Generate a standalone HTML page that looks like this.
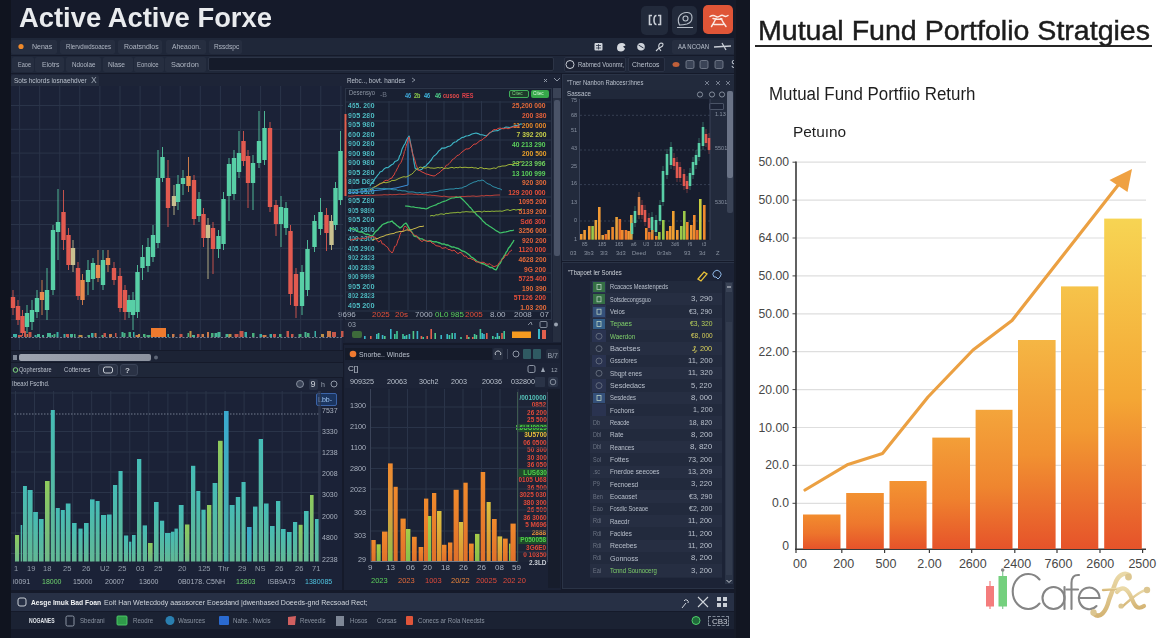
<!DOCTYPE html>
<html><head><meta charset="utf-8"><style>
html,body{margin:0;padding:0;width:1170px;height:638px;overflow:hidden;background:#141928;}
body{position:relative;font-family:"Liberation Sans",sans-serif;}
div{position:absolute;}
.t{white-space:nowrap;line-height:1;}
svg{position:absolute;left:0;top:0;}
#L{left:0;top:0;width:1170px;height:638px;clip-path:inset(0 420px 0 0);filter:blur(0.5px);}
#R{left:0;top:0;width:1170px;height:638px;}
</style></head><body>
<div id="L">
<div style="left:0px;top:0px;width:750px;height:638px;background:#151a2a;"></div>
<div style="left:0px;top:0px;width:11px;height:638px;background:#10141f;"></div>
<div class="t" style="left:18.60px;top:4.0px;font-size:27.5px;color:#e9ebee;font-weight:bold;transform:scaleX(0.995);transform-origin:0 0;">Active Active Forxe</div>
<div style="left:641px;top:6px;width:27px;height:29px;background:#222a3b;border-radius:5px"></div>
<div style="left:672px;top:6px;width:25px;height:29px;background:#222a3b;border-radius:5px"></div>
<div style="left:703px;top:5px;width:30px;height:29px;background:#df5537;border-radius:5px"></div>
<div style="left:11px;top:38px;width:725px;height:17px;background:#1f2739;"></div>
<div style="left:11px;top:40px;width:46px;height:14px;background:#262e40;border-radius:2px"></div>
<div class="t" style="left:31.70px;top:43.2px;font-size:7.5px;color:#b0b7c3;font-weight:normal;transform:scaleX(0.935);transform-origin:0 0;">Nenas</div>
<div style="left:60px;top:40px;width:55px;height:14px;background:#262e40;border-radius:2px"></div>
<div class="t" style="left:66.40px;top:43.2px;font-size:7.5px;color:#b0b7c3;font-weight:normal;transform:scaleX(0.820);transform-origin:0 0;">Rlervdwdsoaces</div>
<div style="left:118px;top:40px;width:44px;height:14px;background:#262e40;border-radius:2px"></div>
<div class="t" style="left:124.00px;top:43.2px;font-size:7.5px;color:#b0b7c3;font-weight:normal;transform:scaleX(0.923);transform-origin:0 0;">Roatsndlos</div>
<div style="left:166px;top:40px;width:40px;height:14px;background:#262e40;border-radius:2px"></div>
<div class="t" style="left:172.00px;top:43.2px;font-size:7.5px;color:#b0b7c3;font-weight:normal;transform:scaleX(0.897);transform-origin:0 0;">Aheaoon.</div>
<div style="left:209px;top:40px;width:33px;height:14px;background:#262e40;border-radius:2px"></div>
<div class="t" style="left:213.70px;top:43.2px;font-size:7.5px;color:#b0b7c3;font-weight:normal;transform:scaleX(0.880);transform-origin:0 0;">Rssdspc</div>
<div style="left:672px;top:40px;width:63px;height:14px;background:#262e40;border-radius:2px"></div>
<div class="t" style="left:678.20px;top:43.7px;font-size:6.8px;color:#b9c0cc;font-weight:normal;transform:scaleX(0.882);transform-origin:0 0;">AA NCOAN</div>
<div style="left:11px;top:56px;width:725px;height:17px;background:#1f2739;"></div>
<div style="left:12px;top:57px;width:22px;height:15px;background:#262e40;border-radius:2px"></div>
<div class="t" style="left:18.00px;top:61.2px;font-size:7.5px;color:#b0b7c3;font-weight:normal;transform:scaleX(0.743);transform-origin:0 0;">Eaoe</div>
<div style="left:35px;top:57px;width:29px;height:15px;background:#262e40;border-radius:2px"></div>
<div class="t" style="left:42.00px;top:61.2px;font-size:7.5px;color:#b0b7c3;font-weight:normal;transform:scaleX(0.914);transform-origin:0 0;">Eiotrs</div>
<div style="left:66px;top:57px;width:35px;height:15px;background:#262e40;border-radius:2px"></div>
<div class="t" style="left:72.00px;top:61.2px;font-size:7.5px;color:#b0b7c3;font-weight:normal;transform:scaleX(0.837);transform-origin:0 0;">Ndoolae</div>
<div style="left:103px;top:57px;width:30px;height:15px;background:#262e40;border-radius:2px"></div>
<div class="t" style="left:108.00px;top:61.2px;font-size:7.5px;color:#b0b7c3;font-weight:normal;transform:scaleX(0.885);transform-origin:0 0;">Nlase</div>
<div style="left:134px;top:57px;width:30px;height:15px;background:#262e40;border-radius:2px"></div>
<div class="t" style="left:137.00px;top:61.2px;font-size:7.5px;color:#b0b7c3;font-weight:normal;transform:scaleX(0.797);transform-origin:0 0;">Eonoice</div>
<div style="left:165px;top:57px;width:41px;height:15px;background:#262e40;border-radius:2px"></div>
<div class="t" style="left:170.50px;top:61.2px;font-size:7.5px;color:#b0b7c3;font-weight:normal;transform:scaleX(0.981);transform-origin:0 0;">Saordon</div>
<div style="left:208px;top:57px;width:346px;height:14px;background:#151b2a;border:1px solid #2c3446;box-sizing:border-box;border-radius:2px"></div>
<div style="left:564px;top:57px;width:62px;height:15px;background:#1b2132;border-radius:2px;border:1px solid #2a3245;box-sizing:border-box"></div>
<div class="t" style="left:577.60px;top:61.2px;font-size:7.2px;color:#b9c0cc;font-weight:normal;transform:scaleX(0.828);transform-origin:0 0;">Rabmed Voonmr,</div>
<div style="left:628px;top:57px;width:37px;height:15px;background:#1b2132;border-radius:2px;border:1px solid #2a3245;box-sizing:border-box"></div>
<div class="t" style="left:632.00px;top:61.2px;font-size:7.2px;color:#b9c0cc;font-weight:normal;transform:scaleX(0.951);transform-origin:0 0;">Chertcos</div>
<div class="t" style="left:731px;top:59.5px;font-size:10px;color:#c3c9d3;font-weight:normal;">S</div>
<div style="left:11px;top:74px;width:332px;height:276px;background:#1b2237;"></div>
<div style="left:11px;top:74px;width:332px;height:12px;background:#1d2437;"></div>
<div style="left:11px;top:75px;width:88px;height:11px;background:#262e40;border-radius:2px 2px 0 0"></div>
<div class="t" style="left:13.80px;top:76.7px;font-size:7.5px;color:#b9c0cc;font-weight:normal;transform:scaleX(0.863);transform-origin:0 0;">Sots hclords iosnaehdver</div>
<div class="t" style="left:91px;top:76.3px;font-size:8.5px;color:#9aa3b1;font-weight:normal;">X</div>
<div style="left:11px;top:351px;width:332px;height:11px;background:#1c2335;"></div>
<div style="left:19px;top:354px;width:132px;height:7px;background:linear-gradient(to right,#9ea4b0,#8c929e);border-radius:2px"></div>
<div style="left:11px;top:363px;width:332px;height:14px;background:#1f2739;"></div>
<div style="left:11px;top:364px;width:46px;height:12px;background:#20273a;border-radius:2px"></div>
<div class="t" style="left:19.00px;top:366.4px;font-size:7.2px;color:#b9c0cc;font-weight:normal;transform:scaleX(0.778);transform-origin:0 0;">Qophersbare</div>
<div style="left:60px;top:364px;width:37px;height:12px;background:#20273a;border-radius:2px"></div>
<div class="t" style="left:64.30px;top:366.4px;font-size:7.2px;color:#b9c0cc;font-weight:normal;transform:scaleX(0.843);transform-origin:0 0;">Cotteroes</div>
<div style="left:98px;top:364px;width:20px;height:12px;background:#2a3245;border-radius:3px;border:1px solid #3a4357;box-sizing:border-box"></div>
<div style="left:120px;top:364px;width:18px;height:12px;background:#2a3245;border-radius:3px;border:1px solid #3a4357;box-sizing:border-box"></div>
<div class="t" style="left:125px;top:366.7px;font-size:8px;color:#c9ced6;font-weight:bold;">?</div>
<div style="left:11px;top:378px;width:331px;height:212px;background:#1b2237;"></div>
<div style="left:11px;top:378px;width:331px;height:12px;background:#1d2437;"></div>
<div class="t" style="left:12.00px;top:380.0px;font-size:7.5px;color:#b9c0cc;font-weight:normal;transform:scaleX(0.801);transform-origin:0 0;">Ibeaxl Fscthd.</div>
<div style="left:309px;top:378.5px;width:9px;height:11.0px;background:#2a3347;border-radius:2px"></div>
<div class="t" style="left:310.5px;top:380.4px;font-size:9px;color:#c9ced6;font-weight:normal;">9</div>
<div class="t" style="left:321px;top:381.1px;font-size:7px;color:#9aa3b1;font-weight:normal;">h</div>
<div style="left:315.5px;top:392.5px;width:21.0px;height:13.5px;background:#1b3560;border:1px solid #3b63a8;box-sizing:border-box;border-radius:2px"></div>
<div class="t" style="left:318px;top:396.1px;font-size:7px;color:#9fc4f0;font-weight:normal;">Lbb-</div>
<div class="t" style="left:322px;top:407.4px;font-size:7px;color:#a9b1bf;font-weight:normal;">7537</div>
<div class="t" style="left:322px;top:427.6px;font-size:7px;color:#a9b1bf;font-weight:normal;">3330</div>
<div class="t" style="left:322px;top:449.3px;font-size:7px;color:#a9b1bf;font-weight:normal;">1238</div>
<div class="t" style="left:322px;top:470.2px;font-size:7px;color:#a9b1bf;font-weight:normal;">2008</div>
<div class="t" style="left:322px;top:491.0px;font-size:7px;color:#a9b1bf;font-weight:normal;">3030</div>
<div class="t" style="left:322px;top:512.6px;font-size:7px;color:#a9b1bf;font-weight:normal;">2000</div>
<div class="t" style="left:322px;top:534.2px;font-size:7px;color:#a9b1bf;font-weight:normal;">4800</div>
<div class="t" style="left:322px;top:555.6px;font-size:7px;color:#a9b1bf;font-weight:normal;">2238</div>
<div class="t" style="left:14px;top:564.7px;font-size:7.5px;color:#959eac;font-weight:normal;">1</div>
<div class="t" style="left:27px;top:564.7px;font-size:7.5px;color:#959eac;font-weight:normal;">19</div>
<div class="t" style="left:43px;top:564.7px;font-size:7.5px;color:#959eac;font-weight:normal;">18</div>
<div class="t" style="left:63px;top:564.7px;font-size:7.5px;color:#959eac;font-weight:normal;">25</div>
<div class="t" style="left:82px;top:564.7px;font-size:7.5px;color:#959eac;font-weight:normal;">26</div>
<div class="t" style="left:100px;top:564.7px;font-size:7.5px;color:#959eac;font-weight:normal;">U2</div>
<div class="t" style="left:118px;top:564.7px;font-size:7.5px;color:#959eac;font-weight:normal;">25</div>
<div class="t" style="left:136px;top:564.7px;font-size:7.5px;color:#959eac;font-weight:normal;">03</div>
<div class="t" style="left:154px;top:564.7px;font-size:7.5px;color:#959eac;font-weight:normal;">25</div>
<div class="t" style="left:178px;top:564.7px;font-size:7.5px;color:#959eac;font-weight:normal;">20</div>
<div class="t" style="left:198px;top:564.7px;font-size:7.5px;color:#959eac;font-weight:normal;">125</div>
<div class="t" style="left:218px;top:564.7px;font-size:7.5px;color:#959eac;font-weight:normal;">Thr</div>
<div class="t" style="left:238px;top:564.7px;font-size:7.5px;color:#959eac;font-weight:normal;">29</div>
<div class="t" style="left:255px;top:564.7px;font-size:7.5px;color:#959eac;font-weight:normal;">NS</div>
<div class="t" style="left:275px;top:564.7px;font-size:7.5px;color:#959eac;font-weight:normal;">26</div>
<div class="t" style="left:295px;top:564.7px;font-size:7.5px;color:#959eac;font-weight:normal;">26</div>
<div class="t" style="left:312px;top:564.7px;font-size:7.5px;color:#959eac;font-weight:normal;">71</div>
<div class="t" style="left:13px;top:577.6px;font-size:7px;color:#aab2c0;font-weight:normal;">i0091</div>
<div class="t" style="left:42px;top:577.6px;font-size:7px;color:#6fd36f;font-weight:normal;">18000</div>
<div class="t" style="left:73px;top:577.6px;font-size:7px;color:#aab2c0;font-weight:normal;">15000</div>
<div class="t" style="left:105px;top:577.6px;font-size:7px;color:#aab2c0;font-weight:normal;">20007</div>
<div class="t" style="left:139px;top:577.6px;font-size:7px;color:#aab2c0;font-weight:normal;">13600</div>
<div class="t" style="left:178px;top:577.6px;font-size:7px;color:#aab2c0;font-weight:normal;">0B0178. C5NH</div>
<div class="t" style="left:236px;top:577.6px;font-size:7px;color:#6fd36f;font-weight:normal;">12803</div>
<div class="t" style="left:268px;top:577.6px;font-size:7px;color:#aab2c0;font-weight:normal;">lSB9A73</div>
<div class="t" style="left:305px;top:577.6px;font-size:7px;color:#4fc3e0;font-weight:normal;">1380085</div>
<div style="left:343px;top:74px;width:218px;height:269px;background:#1b2235;"></div>
<div style="left:343px;top:74px;width:218px;height:13px;background:#1d2437;"></div>
<div class="t" style="left:346.50px;top:76.5px;font-size:7.5px;color:#b9c0cc;font-weight:normal;transform:scaleX(0.844);transform-origin:0 0;">Rebc.., bovt. handes</div>
<div style="left:345px;top:88px;width:207px;height:232px;background:#192032;border:1px solid #2c3548;box-sizing:border-box"></div>
<div class="t" style="left:349.00px;top:89.0px;font-size:7.5px;color:#8e97a5;font-weight:normal;transform:scaleX(0.780);transform-origin:0 0;">Desensyo</div>
<div class="t" style="left:380px;top:90.6px;font-size:7px;color:#6d7585;font-weight:normal;">-B</div>
<div class="t" style="left:405px;top:92.5px;font-size:6.5px;color:#3fa8d8;font-weight:bold;;transform:scaleX(0.85);transform-origin:0 0">46</div>
<div class="t" style="left:414px;top:92.5px;font-size:6.5px;color:#8fd04a;font-weight:bold;;transform:scaleX(0.85);transform-origin:0 0">2b</div>
<div class="t" style="left:424px;top:92.5px;font-size:6.5px;color:#3fb8e0;font-weight:bold;;transform:scaleX(0.85);transform-origin:0 0">46</div>
<div class="t" style="left:435px;top:92.5px;font-size:6.5px;color:#4fd08a;font-weight:bold;;transform:scaleX(0.85);transform-origin:0 0">46</div>
<div class="t" style="left:443px;top:92.5px;font-size:6.5px;color:#e04a4a;font-weight:bold;;transform:scaleX(0.85);transform-origin:0 0">cusoo</div>
<div class="t" style="left:462px;top:92.5px;font-size:6.5px;color:#e0404a;font-weight:bold;;transform:scaleX(0.85);transform-origin:0 0">RES</div>
<div style="left:509px;top:89.5px;width:19.5px;height:8.0px;background:#1f3a2c;border:1px solid #3fae5a;box-sizing:border-box;border-radius:2px"></div>
<div class="t" style="left:511.5px;top:90.8px;font-size:5.5px;color:#7fd67f;font-weight:normal;;transform:scaleX(0.85);transform-origin:0 0">Citec</div>
<div style="left:530.5px;top:89.5px;width:18.0px;height:8.0px;background:#36a84a;border-radius:2px"></div>
<div class="t" style="left:533px;top:90.8px;font-size:5.5px;color:#d8f5d8;font-weight:normal;;transform:scaleX(0.85);transform-origin:0 0">Citec</div>
<div style="left:553px;top:88px;width:8px;height:254px;background:#262e40;"></div>
<div style="left:554px;top:100px;width:6px;height:156px;background:#4a5367;border-radius:2px"></div>
<div class="t" style="left:347.50px;top:102.3px;font-size:7.3px;color:#4fbcc4;font-weight:bold;transform:scaleX(0.933);transform-origin:0 0;">465. 200</div>
<div class="t" style="left:347.50px;top:111.8px;font-size:7.3px;color:#4fbcc4;font-weight:bold;transform:scaleX(1.004);transform-origin:0 0;">905 280</div>
<div class="t" style="left:347.50px;top:121.3px;font-size:7.3px;color:#4fbcc4;font-weight:bold;transform:scaleX(1.004);transform-origin:0 0;">905 980</div>
<div class="t" style="left:347.50px;top:130.8px;font-size:7.3px;color:#4fbcc4;font-weight:bold;transform:scaleX(1.004);transform-origin:0 0;">600 280</div>
<div class="t" style="left:347.50px;top:140.3px;font-size:7.3px;color:#4fbcc4;font-weight:bold;transform:scaleX(1.004);transform-origin:0 0;">900 280</div>
<div class="t" style="left:347.50px;top:149.8px;font-size:7.3px;color:#4fbcc4;font-weight:bold;transform:scaleX(1.004);transform-origin:0 0;">900 980</div>
<div class="t" style="left:347.50px;top:159.3px;font-size:7.3px;color:#4fbcc4;font-weight:bold;transform:scaleX(1.004);transform-origin:0 0;">900 980</div>
<div class="t" style="left:347.50px;top:168.8px;font-size:7.3px;color:#4fbcc4;font-weight:bold;transform:scaleX(1.004);transform-origin:0 0;">905 280</div>
<div class="t" style="left:347.50px;top:178.2px;font-size:7.3px;color:#4fbcc4;font-weight:bold;transform:scaleX(0.960);transform-origin:0 0;">805 D82</div>
<div class="t" style="left:347.50px;top:187.7px;font-size:7.3px;color:#4fbcc4;font-weight:bold;transform:scaleX(0.870);transform-origin:0 0;">865 0520</div>
<div class="t" style="left:347.50px;top:197.2px;font-size:7.3px;color:#4fbcc4;font-weight:bold;transform:scaleX(0.989);transform-origin:0 0;">905 Z80</div>
<div class="t" style="left:347.50px;top:206.7px;font-size:7.3px;color:#4fbcc4;font-weight:bold;transform:scaleX(0.870);transform-origin:0 0;">905 9890</div>
<div class="t" style="left:347.50px;top:216.2px;font-size:7.3px;color:#4fbcc4;font-weight:bold;transform:scaleX(1.004);transform-origin:0 0;">905 200</div>
<div class="t" style="left:347.50px;top:225.7px;font-size:7.3px;color:#4fbcc4;font-weight:bold;transform:scaleX(0.870);transform-origin:0 0;">400 2800</div>
<div class="t" style="left:347.50px;top:235.2px;font-size:7.3px;color:#4fbcc4;font-weight:bold;transform:scaleX(0.870);transform-origin:0 0;">400 2300</div>
<div class="t" style="left:347.50px;top:244.7px;font-size:7.3px;color:#4fbcc4;font-weight:bold;transform:scaleX(0.870);transform-origin:0 0;">405 2900</div>
<div class="t" style="left:347.50px;top:254.2px;font-size:7.3px;color:#4fbcc4;font-weight:bold;transform:scaleX(0.870);transform-origin:0 0;">902 2823</div>
<div class="t" style="left:347.50px;top:263.7px;font-size:7.3px;color:#4fbcc4;font-weight:bold;transform:scaleX(0.870);transform-origin:0 0;">400 2839</div>
<div class="t" style="left:347.50px;top:273.1px;font-size:7.3px;color:#4fbcc4;font-weight:bold;transform:scaleX(0.870);transform-origin:0 0;">900 9999</div>
<div class="t" style="left:347.50px;top:282.6px;font-size:7.3px;color:#4fbcc4;font-weight:bold;transform:scaleX(1.004);transform-origin:0 0;">905 200</div>
<div class="t" style="left:347.50px;top:292.1px;font-size:7.3px;color:#4fbcc4;font-weight:bold;transform:scaleX(0.870);transform-origin:0 0;">802 2823</div>
<div class="t" style="left:347.50px;top:301.6px;font-size:7.3px;color:#4fbcc4;font-weight:bold;transform:scaleX(1.004);transform-origin:0 0;">405 200</div>
<div class="t" style="right:624px;top:102.3px;font-size:7.3px;color:#e46b3a;font-weight:bold;;transform:scaleX(0.92);transform-origin:100% 0">25,200 000</div>
<div class="t" style="right:624px;top:111.9px;font-size:7.3px;color:#e4603a;font-weight:bold;;transform:scaleX(0.92);transform-origin:100% 0">200 380</div>
<div class="t" style="right:624px;top:121.5px;font-size:7.3px;color:#e88a2a;font-weight:bold;;transform:scaleX(0.92);transform-origin:100% 0">11 200 000</div>
<div class="t" style="right:624px;top:131.1px;font-size:7.3px;color:#c8d04a;font-weight:bold;;transform:scaleX(0.92);transform-origin:100% 0">7 392 200</div>
<div class="t" style="right:624px;top:140.7px;font-size:7.3px;color:#5bd05b;font-weight:bold;;transform:scaleX(0.92);transform-origin:100% 0">40 213 290</div>
<div class="t" style="right:624px;top:150.3px;font-size:7.3px;color:#e8a02a;font-weight:bold;;transform:scaleX(0.92);transform-origin:100% 0">200 500</div>
<div class="t" style="right:624px;top:159.9px;font-size:7.3px;color:#6fd05b;font-weight:bold;;transform:scaleX(0.92);transform-origin:100% 0">23 223 996</div>
<div class="t" style="right:624px;top:169.5px;font-size:7.3px;color:#5bd05b;font-weight:bold;;transform:scaleX(0.92);transform-origin:100% 0">13 100 999</div>
<div class="t" style="right:624px;top:179.1px;font-size:7.3px;color:#e46b3a;font-weight:bold;;transform:scaleX(0.92);transform-origin:100% 0">920 300</div>
<div class="t" style="right:624px;top:188.7px;font-size:7.3px;color:#e4503a;font-weight:bold;;transform:scaleX(0.92);transform-origin:100% 0">129 200 000</div>
<div class="t" style="right:624px;top:198.3px;font-size:7.3px;color:#e4603a;font-weight:bold;;transform:scaleX(0.92);transform-origin:100% 0">1095 200</div>
<div class="t" style="right:624px;top:207.9px;font-size:7.3px;color:#e46b3a;font-weight:bold;;transform:scaleX(0.92);transform-origin:100% 0">5139 200</div>
<div class="t" style="right:624px;top:217.5px;font-size:7.3px;color:#e04a3a;font-weight:bold;;transform:scaleX(0.92);transform-origin:100% 0">Sd6 300</div>
<div class="t" style="right:624px;top:227.1px;font-size:7.3px;color:#e46b3a;font-weight:bold;;transform:scaleX(0.92);transform-origin:100% 0">3256 000</div>
<div class="t" style="right:624px;top:236.7px;font-size:7.3px;color:#e4603a;font-weight:bold;;transform:scaleX(0.92);transform-origin:100% 0">920 200</div>
<div class="t" style="right:624px;top:246.3px;font-size:7.3px;color:#e4503a;font-weight:bold;;transform:scaleX(0.92);transform-origin:100% 0">1120 000</div>
<div class="t" style="right:624px;top:255.9px;font-size:7.3px;color:#e46b3a;font-weight:bold;;transform:scaleX(0.92);transform-origin:100% 0">4628 200</div>
<div class="t" style="right:624px;top:265.5px;font-size:7.3px;color:#e4603a;font-weight:bold;;transform:scaleX(0.92);transform-origin:100% 0">9G 200</div>
<div class="t" style="right:624px;top:275.1px;font-size:7.3px;color:#e4503a;font-weight:bold;;transform:scaleX(0.92);transform-origin:100% 0">5725 400</div>
<div class="t" style="right:624px;top:284.7px;font-size:7.3px;color:#e46b3a;font-weight:bold;;transform:scaleX(0.92);transform-origin:100% 0">190 390</div>
<div class="t" style="right:624px;top:294.3px;font-size:7.3px;color:#e4503a;font-weight:bold;;transform:scaleX(0.92);transform-origin:100% 0">5T126 200</div>
<div class="t" style="right:624px;top:303.9px;font-size:7.3px;color:#e46b3a;font-weight:bold;;transform:scaleX(0.92);transform-origin:100% 0">1.03 200</div>
<div class="t" style="left:338px;top:310.7px;font-size:8px;color:#aab2c0;font-weight:normal;">9696</div>
<div class="t" style="left:372px;top:310.7px;font-size:8px;color:#e4503a;font-weight:normal;">2025</div>
<div class="t" style="left:395px;top:310.7px;font-size:8px;color:#e4503a;font-weight:normal;">20s</div>
<div class="t" style="left:415px;top:310.7px;font-size:8px;color:#aab2c0;font-weight:normal;">7000</div>
<div class="t" style="left:435px;top:310.7px;font-size:8px;color:#5bd05b;font-weight:normal;">0L0 985</div>
<div class="t" style="left:465px;top:310.7px;font-size:8px;color:#e4503a;font-weight:normal;">2005</div>
<div class="t" style="left:490px;top:310.7px;font-size:8px;color:#aab2c0;font-weight:normal;">8.00</div>
<div class="t" style="left:514px;top:310.7px;font-size:8px;color:#aab2c0;font-weight:normal;">2008</div>
<div class="t" style="left:540px;top:310.7px;font-size:8px;color:#aab2c0;font-weight:normal;">07</div>
<div style="left:345px;top:320px;width:207px;height:22px;background:#1d2437;"></div>
<div class="t" style="left:348px;top:320.6px;font-size:7px;color:#9aa3b1;font-weight:normal;">03</div>
<div style="left:344px;top:345px;width:217px;height:245px;background:#1b2235;"></div>
<div style="left:345px;top:348px;width:147px;height:12px;background:#151b2a;"></div>
<div class="t" style="left:359.00px;top:350.8px;font-size:7.3px;color:#b9c0cc;font-weight:normal;transform:scaleX(0.940);transform-origin:0 0;">Snorbe.. Windes</div>
<div style="left:493px;top:348px;width:10px;height:12px;background:#262e40;border-radius:2px"></div>
<div style="left:523px;top:349px;width:8px;height:10px;background:#2f5a62;border-radius:1px"></div>
<div style="left:533px;top:349px;width:8px;height:10px;background:#2f5a62;border-radius:1px"></div>
<div style="left:546px;top:349px;width:13px;height:10px;background:#262e40;border-radius:2px"></div>
<div class="t" style="left:547.5px;top:351.6px;font-size:7px;color:#9aa3b1;font-weight:normal;">B/7</div>
<div style="left:345px;top:363px;width:215px;height:25px;background:#1d2437;"></div>
<div class="t" style="left:348px;top:365.2px;font-size:8px;color:#c3c9d3;font-weight:normal;">C[]</div>
<div class="t" style="left:350px;top:377.9px;font-size:7.2px;color:#b9c0cc;font-weight:normal;">909325</div>
<div class="t" style="left:387px;top:377.9px;font-size:7.2px;color:#b9c0cc;font-weight:normal;">20063</div>
<div class="t" style="left:419px;top:377.9px;font-size:7.2px;color:#b9c0cc;font-weight:normal;">30ch2</div>
<div class="t" style="left:451px;top:377.9px;font-size:7.2px;color:#b9c0cc;font-weight:normal;">2003</div>
<div class="t" style="left:482px;top:377.9px;font-size:7.2px;color:#b9c0cc;font-weight:normal;">20036</div>
<div class="t" style="left:511px;top:377.9px;font-size:7.2px;color:#b9c0cc;font-weight:normal;">032800</div>
<div style="left:535px;top:377px;width:10px;height:10px;background:#2a3347;border-radius:1px"></div>
<div style="left:548px;top:377px;width:10px;height:10px;background:#2a3347;border-radius:2px"></div>
<div class="t" style="right:804px;top:402.2px;font-size:7.2px;color:#aab2c0;font-weight:normal;">1300</div>
<div class="t" style="right:804px;top:422.8px;font-size:7.2px;color:#aab2c0;font-weight:normal;">2100</div>
<div class="t" style="right:804px;top:443.8px;font-size:7.2px;color:#aab2c0;font-weight:normal;">1100</div>
<div class="t" style="right:804px;top:465.0px;font-size:7.2px;color:#aab2c0;font-weight:normal;">2800</div>
<div class="t" style="right:804px;top:486.4px;font-size:7.2px;color:#aab2c0;font-weight:normal;">2023</div>
<div class="t" style="right:804px;top:508.9px;font-size:7.2px;color:#aab2c0;font-weight:normal;">303</div>
<div class="t" style="right:804px;top:532.1px;font-size:7.2px;color:#aab2c0;font-weight:normal;">303</div>
<div class="t" style="right:804px;top:555.9px;font-size:7.2px;color:#aab2c0;font-weight:normal;">29</div>
<div style="left:548px;top:389px;width:12px;height:199px;background:#171d2c;"></div>
<div style="left:517px;top:392px;width:31px;height:170px;background:#1d2436;"></div>
<div class="t" style="right:623.5px;top:394.5px;font-size:6.8px;color:#54c0b8;font-weight:bold;;transform:scaleX(0.95);transform-origin:100% 0">/0010000</div>
<div class="t" style="right:623.5px;top:402.0px;font-size:6.8px;color:#e04a3a;font-weight:bold;;transform:scaleX(0.95);transform-origin:100% 0">0852</div>
<div class="t" style="right:623.5px;top:409.5px;font-size:6.8px;color:#e04a3a;font-weight:bold;;transform:scaleX(0.95);transform-origin:100% 0">26 200</div>
<div class="t" style="right:623.5px;top:417.0px;font-size:6.8px;color:#e04a3a;font-weight:bold;;transform:scaleX(0.95);transform-origin:100% 0">25 500</div>
<div style="left:518px;top:424.4px;width:29px;height:7.2000000000000455px;background:#1f4a2a;"></div>
<div class="t" style="right:623.5px;top:424.5px;font-size:6.8px;color:#4fd04a;font-weight:bold;;transform:scaleX(0.95);transform-origin:100% 0">L6UU0029</div>
<div class="t" style="right:623.5px;top:432.0px;font-size:6.8px;color:#e8c03a;font-weight:bold;;transform:scaleX(0.95);transform-origin:100% 0">3U5700</div>
<div class="t" style="right:623.5px;top:439.5px;font-size:6.8px;color:#e04a3a;font-weight:bold;;transform:scaleX(0.95);transform-origin:100% 0">06 0500</div>
<div class="t" style="right:623.5px;top:447.0px;font-size:6.8px;color:#e04a3a;font-weight:bold;;transform:scaleX(0.95);transform-origin:100% 0">50 300</div>
<div class="t" style="right:623.5px;top:454.5px;font-size:6.8px;color:#e04a3a;font-weight:bold;;transform:scaleX(0.95);transform-origin:100% 0">30 300</div>
<div class="t" style="right:623.5px;top:462.0px;font-size:6.8px;color:#e04a3a;font-weight:bold;;transform:scaleX(0.95);transform-origin:100% 0">36 050</div>
<div style="left:518px;top:469.4px;width:29px;height:7.2000000000000455px;background:#1f4a2a;"></div>
<div class="t" style="right:623.5px;top:469.5px;font-size:6.8px;color:#4fd04a;font-weight:bold;;transform:scaleX(0.95);transform-origin:100% 0">LUS630</div>
<div class="t" style="right:623.5px;top:477.0px;font-size:6.8px;color:#e04a3a;font-weight:bold;;transform:scaleX(0.95);transform-origin:100% 0">0105 U68</div>
<div class="t" style="right:623.5px;top:484.5px;font-size:6.8px;color:#e04a3a;font-weight:bold;;transform:scaleX(0.95);transform-origin:100% 0">36 500</div>
<div class="t" style="right:623.5px;top:492.0px;font-size:6.8px;color:#e04a3a;font-weight:bold;;transform:scaleX(0.95);transform-origin:100% 0">3025 030</div>
<div class="t" style="right:623.5px;top:499.5px;font-size:6.8px;color:#e04a3a;font-weight:bold;;transform:scaleX(0.95);transform-origin:100% 0">380 300</div>
<div class="t" style="right:623.5px;top:507.0px;font-size:6.8px;color:#e04a3a;font-weight:bold;;transform:scaleX(0.95);transform-origin:100% 0">26 500</div>
<div class="t" style="right:623.5px;top:514.5px;font-size:6.8px;color:#e04a3a;font-weight:bold;;transform:scaleX(0.95);transform-origin:100% 0">36 3060</div>
<div class="t" style="right:623.5px;top:522.0px;font-size:6.8px;color:#e04a3a;font-weight:bold;;transform:scaleX(0.95);transform-origin:100% 0">5 M696</div>
<div class="t" style="right:623.5px;top:529.5px;font-size:6.8px;color:#e8903a;font-weight:bold;;transform:scaleX(0.95);transform-origin:100% 0">2888</div>
<div style="left:518px;top:536.9px;width:29px;height:7.2000000000000455px;background:#1f4a2a;"></div>
<div class="t" style="right:623.5px;top:537.0px;font-size:6.8px;color:#4fd04a;font-weight:bold;;transform:scaleX(0.95);transform-origin:100% 0">P050058</div>
<div class="t" style="right:623.5px;top:544.5px;font-size:6.8px;color:#e04a3a;font-weight:bold;;transform:scaleX(0.95);transform-origin:100% 0">3G6E0</div>
<div class="t" style="right:623.5px;top:552.0px;font-size:6.8px;color:#e04a3a;font-weight:bold;;transform:scaleX(0.95);transform-origin:100% 0">0 10350</div>
<div class="t" style="right:623.5px;top:559.5px;font-size:6.8px;color:#c9ced6;font-weight:bold;;transform:scaleX(0.95);transform-origin:100% 0">2.3LD</div>
<div class="t" style="left:368px;top:563.7px;font-size:8px;color:#aab2c0;font-weight:normal;">9</div>
<div class="t" style="left:386px;top:563.7px;font-size:8px;color:#aab2c0;font-weight:normal;">13</div>
<div class="t" style="left:406px;top:563.7px;font-size:8px;color:#aab2c0;font-weight:normal;">06</div>
<div class="t" style="left:423px;top:563.7px;font-size:8px;color:#aab2c0;font-weight:normal;">20</div>
<div class="t" style="left:441px;top:563.7px;font-size:8px;color:#aab2c0;font-weight:normal;">18</div>
<div class="t" style="left:459px;top:563.7px;font-size:8px;color:#aab2c0;font-weight:normal;">26</div>
<div class="t" style="left:477px;top:563.7px;font-size:8px;color:#aab2c0;font-weight:normal;">26</div>
<div class="t" style="left:495px;top:563.7px;font-size:8px;color:#aab2c0;font-weight:normal;">08</div>
<div class="t" style="left:512px;top:563.7px;font-size:8px;color:#aab2c0;font-weight:normal;">59</div>
<div class="t" style="left:371px;top:576.7px;font-size:7.5px;color:#5bd05b;font-weight:normal;">2023</div>
<div class="t" style="left:398px;top:576.7px;font-size:7.5px;color:#e46b3a;font-weight:normal;">2023</div>
<div class="t" style="left:425px;top:576.7px;font-size:7.5px;color:#e04a3a;font-weight:normal;">1003</div>
<div class="t" style="left:451px;top:576.7px;font-size:7.5px;color:#e8833a;font-weight:normal;">20/22</div>
<div class="t" style="left:476px;top:576.7px;font-size:7.5px;color:#e04a3a;font-weight:normal;">20025</div>
<div class="t" style="left:503px;top:576.7px;font-size:7.5px;color:#e04a3a;font-weight:normal;">202 20</div>
<div style="left:562px;top:74px;width:173px;height:187px;background:#222a3c;border:1px solid #2a3346;box-sizing:border-box"></div>
<div class="t" style="left:566.50px;top:79.3px;font-size:7.2px;color:#b9c0cc;font-weight:normal;transform:scaleX(0.826);transform-origin:0 0;">"Tner Nanbon Rabcesr:ihnes</div>
<div style="left:565px;top:90px;width:160px;height:9px;background:#20283a;"></div>
<div class="t" style="left:567.00px;top:91.0px;font-size:6.5px;color:#b9c0cc;font-weight:normal;transform:scaleX(0.962);transform-origin:0 0;">Sassace</div>
<div style="left:727px;top:91px;width:6px;height:122px;background:#3a4356;border-radius:2px"></div>
<div style="left:727px;top:91px;width:6px;height:87px;background:#6a7386;border-radius:2px"></div>
<div style="left:579px;top:99px;width:131px;height:141px;background:#171d2e;"></div>
<div class="t" style="right:593px;top:98.3px;font-size:5.5px;color:#8a93a3;font-weight:normal;">75</div>
<div class="t" style="right:593px;top:112.8px;font-size:5.5px;color:#8a93a3;font-weight:normal;">68</div>
<div class="t" style="right:593px;top:128.3px;font-size:5.5px;color:#8a93a3;font-weight:normal;">51</div>
<div class="t" style="right:593px;top:146.3px;font-size:5.5px;color:#8a93a3;font-weight:normal;">43</div>
<div class="t" style="right:593px;top:163.9px;font-size:5.5px;color:#8a93a3;font-weight:normal;">25</div>
<div class="t" style="right:593px;top:181.3px;font-size:5.5px;color:#8a93a3;font-weight:normal;">16</div>
<div class="t" style="right:593px;top:200.3px;font-size:5.5px;color:#8a93a3;font-weight:normal;">13</div>
<div class="t" style="right:593px;top:218.3px;font-size:5.5px;color:#8a93a3;font-weight:normal;">0</div>
<div class="t" style="right:593px;top:237.3px;font-size:5.5px;color:#8a93a3;font-weight:normal;">1</div>
<div style="left:709px;top:103px;width:15px;height:7px;background:#1c2336;border:1px solid #4a5366;box-sizing:border-box;border-radius:1px"></div>
<div class="t" style="left:715px;top:112.3px;font-size:5.5px;color:#8a93a3;font-weight:normal;">1.13</div>
<div class="t" style="left:715px;top:146.3px;font-size:5.5px;color:#8a93a3;font-weight:normal;">5501</div>
<div class="t" style="left:715px;top:200.3px;font-size:5.5px;color:#8a93a3;font-weight:normal;">5301</div>
<div class="t" style="left:582px;top:242.3px;font-size:5px;color:#8a93a1;font-weight:normal;">85</div>
<div class="t" style="left:598px;top:242.3px;font-size:5px;color:#8a93a1;font-weight:normal;">185</div>
<div class="t" style="left:615px;top:242.3px;font-size:5px;color:#8a93a1;font-weight:normal;">165</div>
<div class="t" style="left:631px;top:242.3px;font-size:5px;color:#8a93a1;font-weight:normal;">a6</div>
<div class="t" style="left:643px;top:242.3px;font-size:5px;color:#8a93a1;font-weight:normal;">U3</div>
<div class="t" style="left:654px;top:242.3px;font-size:5px;color:#8a93a1;font-weight:normal;">103</div>
<div class="t" style="left:671px;top:242.3px;font-size:5px;color:#8a93a1;font-weight:normal;">3d6</div>
<div class="t" style="left:688px;top:242.3px;font-size:5px;color:#8a93a1;font-weight:normal;">f6</div>
<div class="t" style="left:702px;top:242.3px;font-size:5px;color:#8a93a1;font-weight:normal;">t3</div>
<div class="t" style="left:570px;top:251.1px;font-size:5.8px;color:#8a93a1;font-weight:normal;">03</div>
<div class="t" style="left:584px;top:251.1px;font-size:5.8px;color:#8a93a1;font-weight:normal;">3b3</div>
<div class="t" style="left:600px;top:251.1px;font-size:5.8px;color:#8a93a1;font-weight:normal;">3l3</div>
<div class="t" style="left:616px;top:251.1px;font-size:5.8px;color:#8a93a1;font-weight:normal;">3d3</div>
<div class="t" style="left:632px;top:251.1px;font-size:5.8px;color:#8a93a1;font-weight:normal;">Deed</div>
<div class="t" style="left:657px;top:251.1px;font-size:5.8px;color:#8a93a1;font-weight:normal;">0r3sb</div>
<div class="t" style="left:684px;top:251.1px;font-size:5.8px;color:#8a93a1;font-weight:normal;">93</div>
<div class="t" style="left:699px;top:251.1px;font-size:5.8px;color:#8a93a1;font-weight:normal;">3d</div>
<div class="t" style="left:716px;top:251.1px;font-size:5.8px;color:#8a93a1;font-weight:normal;">Z</div>
<div style="left:562px;top:262px;width:173px;height:327px;background:#1c2336;border:1px solid #2a3346;box-sizing:border-box"></div>
<div class="t" style="left:568.40px;top:269.2px;font-size:7.5px;color:#cdd2d9;font-weight:normal;transform:scaleX(0.787);transform-origin:0 0;">"Tbapoet ler Sondes</div>
<div style="left:725px;top:282px;width:8px;height:302px;background:#2a3346;"></div>
<div style="left:726px;top:283px;width:6px;height:9px;background:#3a4356;"></div>
<div style="left:726px;top:322px;width:6px;height:253px;background:#323b4e;"></div>
<div style="left:590px;top:281px;width:132px;height:297px;background:#222a3d;"></div>
<div style="left:592px;top:281px;width:14px;height:139px;background:#2a3350;"></div>
<div style="left:593px;top:282.0px;width:12px;height:10.0px;background:#356f45;"></div>
<div class="t" style="left:609.50px;top:283.3px;font-size:7.5px;color:#b9c0cc;font-weight:normal;transform:scaleX(0.766);transform-origin:0 0;">Rcacacs Meastenpeds</div>
<div style="left:590px;top:293.1px;width:132px;height:12.299999999999955px;background:#262e42;"></div>
<div style="left:593px;top:294.3px;width:12px;height:10.0px;background:#356f45;"></div>
<div class="t" style="left:609.50px;top:295.6px;font-size:7.5px;color:#b9c0cc;font-weight:normal;transform:scaleX(0.730);transform-origin:0 0;">Sotsdecongsguo</div>
<div class="t" style="left:690.50px;top:295.3px;font-size:8px;color:#b9c0cc;font-weight:normal;transform:scaleX(0.975);transform-origin:0 0;">3, 290</div>
<div style="left:593px;top:306.7px;width:12px;height:10.0px;background:#34507a;"></div>
<div class="t" style="left:609.50px;top:307.9px;font-size:7.5px;color:#b9c0cc;font-weight:normal;transform:scaleX(0.812);transform-origin:0 0;">Veios</div>
<div class="t" style="left:689.00px;top:307.6px;font-size:8px;color:#b9c0cc;font-weight:normal;transform:scaleX(0.869);transform-origin:0 0;">€3, 290</div>
<div style="left:590px;top:317.8px;width:132px;height:12.300000000000011px;background:#262e42;"></div>
<div style="left:593px;top:319.0px;width:12px;height:10.0px;background:#345e88;"></div>
<div class="t" style="left:609.50px;top:320.2px;font-size:7.5px;color:#7fd06a;font-weight:normal;transform:scaleX(0.909);transform-origin:0 0;">Tepaes</div>
<div class="t" style="left:689.60px;top:319.9px;font-size:8px;color:#b8d05a;font-weight:normal;transform:scaleX(0.846);transform-origin:0 0;">€3, 320</div>
<div class="t" style="left:609.50px;top:332.6px;font-size:7.5px;color:#7fd06a;font-weight:normal;transform:scaleX(0.839);transform-origin:0 0;">Waerdon</div>
<div class="t" style="left:690.50px;top:332.2px;font-size:8px;color:#d8d05a;font-weight:normal;transform:scaleX(0.813);transform-origin:0 0;">€8, 000</div>
<div style="left:590px;top:342.4px;width:132px;height:12.400000000000034px;background:#262e42;"></div>
<div class="t" style="left:609.50px;top:344.9px;font-size:7.5px;color:#b9c0cc;font-weight:normal;transform:scaleX(0.985);transform-origin:0 0;">Bacetses</div>
<div class="t" style="left:692.00px;top:344.6px;font-size:8px;color:#d8d05a;font-weight:normal;transform:scaleX(0.920);transform-origin:0 0;">₰, 200</div>
<div class="t" style="left:609.50px;top:357.2px;font-size:7.5px;color:#b9c0cc;font-weight:normal;transform:scaleX(0.797);transform-origin:0 0;">Gsscfores</div>
<div class="t" style="left:687.50px;top:356.9px;font-size:8px;color:#b9c0cc;font-weight:normal;transform:scaleX(0.946);transform-origin:0 0;">11, 200</div>
<div style="left:590px;top:367.1px;width:132px;height:12.299999999999955px;background:#262e42;"></div>
<div class="t" style="left:609.50px;top:369.6px;font-size:7.5px;color:#b9c0cc;font-weight:normal;transform:scaleX(0.841);transform-origin:0 0;">Sbqpt enes</div>
<div class="t" style="left:687.50px;top:369.2px;font-size:8px;color:#b9c0cc;font-weight:normal;transform:scaleX(0.946);transform-origin:0 0;">11, 320</div>
<div class="t" style="left:609.50px;top:381.9px;font-size:7.5px;color:#b9c0cc;font-weight:normal;transform:scaleX(0.946);transform-origin:0 0;">Sesdedacs</div>
<div class="t" style="left:691.40px;top:381.6px;font-size:8px;color:#b9c0cc;font-weight:normal;transform:scaleX(0.935);transform-origin:0 0;">5, 220</div>
<div style="left:590px;top:391.8px;width:132px;height:12.300000000000011px;background:#262e42;"></div>
<div style="left:593px;top:393.0px;width:12px;height:10.0px;background:#34507a;"></div>
<div class="t" style="left:609.50px;top:394.2px;font-size:7.5px;color:#b9c0cc;font-weight:normal;transform:scaleX(0.777);transform-origin:0 0;">Sesdedes</div>
<div class="t" style="left:690.80px;top:393.9px;font-size:8px;color:#b9c0cc;font-weight:normal;transform:scaleX(0.962);transform-origin:0 0;">8, 000</div>
<div class="t" style="left:609.50px;top:406.6px;font-size:7.5px;color:#b9c0cc;font-weight:normal;transform:scaleX(0.852);transform-origin:0 0;">Fochons</div>
<div class="t" style="left:692.60px;top:406.2px;font-size:8px;color:#b9c0cc;font-weight:normal;transform:scaleX(0.881);transform-origin:0 0;">1, 200</div>
<div style="left:590px;top:416.4px;width:132px;height:12.300000000000011px;background:#262e42;"></div>
<div class="t" style="left:593px;top:419.6px;font-size:6.5px;color:#6d7585;font-weight:normal;;transform:scaleX(0.85);transform-origin:0 0">Db</div>
<div class="t" style="left:609.50px;top:418.9px;font-size:7.5px;color:#b9c0cc;font-weight:normal;transform:scaleX(0.754);transform-origin:0 0;">Reacde</div>
<div class="t" style="left:689.00px;top:418.6px;font-size:8px;color:#b9c0cc;font-weight:normal;transform:scaleX(0.869);transform-origin:0 0;">18, 820</div>
<div class="t" style="left:593px;top:432.0px;font-size:6.5px;color:#6d7585;font-weight:normal;;transform:scaleX(0.85);transform-origin:0 0">Dbl</div>
<div class="t" style="left:609.50px;top:431.2px;font-size:7.5px;color:#b9c0cc;font-weight:normal;transform:scaleX(0.852);transform-origin:0 0;">Rate</div>
<div class="t" style="left:690.50px;top:430.9px;font-size:8px;color:#b9c0cc;font-weight:normal;transform:scaleX(0.975);transform-origin:0 0;">8, 200</div>
<div style="left:590px;top:441.1px;width:132px;height:12.299999999999955px;background:#262e42;"></div>
<div class="t" style="left:593px;top:444.3px;font-size:6.5px;color:#6d7585;font-weight:normal;;transform:scaleX(0.85);transform-origin:0 0">Dbl</div>
<div class="t" style="left:609.50px;top:443.5px;font-size:7.5px;color:#b9c0cc;font-weight:normal;transform:scaleX(0.824);transform-origin:0 0;">Reances</div>
<div class="t" style="left:689.90px;top:443.2px;font-size:8px;color:#b9c0cc;font-weight:normal;transform:scaleX(1.002);transform-origin:0 0;">8, 820</div>
<div class="t" style="left:593px;top:456.6px;font-size:6.5px;color:#6d7585;font-weight:normal;;transform:scaleX(0.85);transform-origin:0 0">Sol</div>
<div class="t" style="left:609.50px;top:455.9px;font-size:7.5px;color:#b9c0cc;font-weight:normal;transform:scaleX(0.902);transform-origin:0 0;">Fottes</div>
<div class="t" style="left:688.00px;top:455.5px;font-size:8px;color:#b9c0cc;font-weight:normal;transform:scaleX(0.906);transform-origin:0 0;">73, 200</div>
<div style="left:590px;top:465.8px;width:132px;height:12.300000000000011px;background:#262e42;"></div>
<div class="t" style="left:593px;top:468.9px;font-size:6.5px;color:#6d7585;font-weight:normal;;transform:scaleX(0.85);transform-origin:0 0">.sc</div>
<div class="t" style="left:609.50px;top:468.2px;font-size:7.5px;color:#b9c0cc;font-weight:normal;transform:scaleX(0.854);transform-origin:0 0;">Fnerdoe seecoes</div>
<div class="t" style="left:688.00px;top:467.9px;font-size:8px;color:#b9c0cc;font-weight:normal;transform:scaleX(0.906);transform-origin:0 0;">13, 209</div>
<div class="t" style="left:593px;top:481.3px;font-size:6.5px;color:#6d7585;font-weight:normal;;transform:scaleX(0.85);transform-origin:0 0">P9</div>
<div class="t" style="left:609.50px;top:480.5px;font-size:7.5px;color:#b9c0cc;font-weight:normal;transform:scaleX(0.856);transform-origin:0 0;">Fecnoesd</div>
<div class="t" style="left:691.00px;top:480.2px;font-size:8px;color:#b9c0cc;font-weight:normal;transform:scaleX(0.953);transform-origin:0 0;">3, 220</div>
<div style="left:590px;top:490.4px;width:132px;height:12.300000000000011px;background:#262e42;"></div>
<div class="t" style="left:593px;top:493.6px;font-size:6.5px;color:#6d7585;font-weight:normal;;transform:scaleX(0.85);transform-origin:0 0">Ben</div>
<div class="t" style="left:609.50px;top:492.9px;font-size:7.5px;color:#b9c0cc;font-weight:normal;transform:scaleX(0.864);transform-origin:0 0;">Eocaoset</div>
<div class="t" style="left:688.80px;top:492.5px;font-size:8px;color:#b9c0cc;font-weight:normal;transform:scaleX(0.876);transform-origin:0 0;">€3, 290</div>
<div class="t" style="left:593px;top:505.9px;font-size:6.5px;color:#6d7585;font-weight:normal;;transform:scaleX(0.85);transform-origin:0 0">Eao</div>
<div class="t" style="left:609.50px;top:505.2px;font-size:7.5px;color:#b9c0cc;font-weight:normal;transform:scaleX(0.763);transform-origin:0 0;">Fosdic Soeaoe</div>
<div class="t" style="left:688.80px;top:504.9px;font-size:8px;color:#b9c0cc;font-weight:normal;transform:scaleX(0.876);transform-origin:0 0;">€2, 200</div>
<div style="left:590px;top:515.1px;width:132px;height:12.299999999999955px;background:#262e42;"></div>
<div class="t" style="left:593px;top:518.3px;font-size:6.5px;color:#6d7585;font-weight:normal;;transform:scaleX(0.85);transform-origin:0 0">Rdi</div>
<div class="t" style="left:609.50px;top:517.5px;font-size:7.5px;color:#b9c0cc;font-weight:normal;transform:scaleX(0.806);transform-origin:0 0;">Raecdr</div>
<div class="t" style="left:688.00px;top:517.2px;font-size:8px;color:#b9c0cc;font-weight:normal;transform:scaleX(0.927);transform-origin:0 0;">11, 200</div>
<div class="t" style="left:593px;top:530.6px;font-size:6.5px;color:#6d7585;font-weight:normal;;transform:scaleX(0.85);transform-origin:0 0">Rdi</div>
<div class="t" style="left:609.50px;top:529.9px;font-size:7.5px;color:#b9c0cc;font-weight:normal;transform:scaleX(0.830);transform-origin:0 0;">Facides</div>
<div class="t" style="left:688.00px;top:529.5px;font-size:8px;color:#b9c0cc;font-weight:normal;transform:scaleX(0.927);transform-origin:0 0;">11, 200</div>
<div style="left:590px;top:539.7px;width:132px;height:12.299999999999955px;background:#262e42;"></div>
<div class="t" style="left:593px;top:542.9px;font-size:6.5px;color:#6d7585;font-weight:normal;;transform:scaleX(0.85);transform-origin:0 0">Rdi</div>
<div class="t" style="left:609.50px;top:542.2px;font-size:7.5px;color:#b9c0cc;font-weight:normal;transform:scaleX(0.912);transform-origin:0 0;">Recebes</div>
<div class="t" style="left:688.00px;top:541.9px;font-size:8px;color:#b9c0cc;font-weight:normal;transform:scaleX(0.927);transform-origin:0 0;">11, 200</div>
<div class="t" style="left:593px;top:555.3px;font-size:6.5px;color:#6d7585;font-weight:normal;;transform:scaleX(0.85);transform-origin:0 0">Rdi</div>
<div class="t" style="left:609.50px;top:554.5px;font-size:7.5px;color:#b9c0cc;font-weight:normal;transform:scaleX(0.940);transform-origin:0 0;">Gonnoss</div>
<div class="t" style="left:691.00px;top:554.2px;font-size:8px;color:#b9c0cc;font-weight:normal;transform:scaleX(0.953);transform-origin:0 0;">8, 200</div>
<div style="left:590px;top:564.4px;width:132px;height:12.300000000000068px;background:#262e42;"></div>
<div class="t" style="left:593px;top:567.6px;font-size:6.5px;color:#6d7585;font-weight:normal;;transform:scaleX(0.85);transform-origin:0 0">Eai</div>
<div class="t" style="left:609.50px;top:566.8px;font-size:7.5px;color:#7fd06a;font-weight:normal;transform:scaleX(0.802);transform-origin:0 0;">Tcnnd Sounocerg</div>
<div class="t" style="left:691.00px;top:566.5px;font-size:8px;color:#b9c0cc;font-weight:normal;transform:scaleX(0.953);transform-origin:0 0;">3, 200</div>
<div style="left:11px;top:593px;width:723px;height:18px;background:#273045;"></div>
<div class="t" style="left:31px;top:598.9px;font-size:7.8px;color:#f0f2f4;font-weight:bold;;transform:scaleX(0.86);transform-origin:0 0">Aesge Imuk Bad Foan</div>
<div class="t" style="left:104px;top:599.1px;font-size:7.6px;color:#d0d5dc;font-weight:normal;;transform:scaleX(0.93);transform-origin:0 0">Eoit Han Wetecdody aasosorcer Eoesdand |dwenbased Doeeds-gnd Recsoad Rect;</div>
<div style="left:11px;top:612px;width:723px;height:17px;background:#1b2233;"></div>
<div class="t" style="left:29px;top:618.0px;font-size:6.5px;color:#e0e4ea;font-weight:bold;;transform:scaleX(0.78);transform-origin:0 0">NOGANES</div>
<div class="t" style="left:80px;top:617.2px;font-size:7.5px;color:#8a93a1;font-weight:normal;;transform:scaleX(0.82);transform-origin:0 0">Sbedrani</div>
<div class="t" style="left:133px;top:617.2px;font-size:7.5px;color:#8a93a1;font-weight:normal;;transform:scaleX(0.82);transform-origin:0 0">Reodre</div>
<div class="t" style="left:178px;top:617.2px;font-size:7.5px;color:#8a93a1;font-weight:normal;;transform:scaleX(0.82);transform-origin:0 0">Wasurces</div>
<div class="t" style="left:233px;top:617.2px;font-size:7.5px;color:#8a93a1;font-weight:normal;;transform:scaleX(0.82);transform-origin:0 0">Nahe.. Nwicis</div>
<div class="t" style="left:300px;top:617.2px;font-size:7.5px;color:#8a93a1;font-weight:normal;;transform:scaleX(0.82);transform-origin:0 0">Reveedis</div>
<div class="t" style="left:350px;top:617.2px;font-size:7.5px;color:#8a93a1;font-weight:normal;;transform:scaleX(0.82);transform-origin:0 0">Hosos</div>
<div class="t" style="left:377px;top:617.2px;font-size:7.5px;color:#8a93a1;font-weight:normal;;transform:scaleX(0.82);transform-origin:0 0">Corsas</div>
<div class="t" style="left:418px;top:617.2px;font-size:7.5px;color:#8a93a1;font-weight:normal;;transform:scaleX(0.82);transform-origin:0 0">Conecs ar Rola Needsts</div>
<div style="left:708px;top:616px;width:21px;height:10px;background:transparent;border:1px dashed #7e8796;box-sizing:border-box"></div>
<div class="t" style="left:712px;top:617.7px;font-size:8px;color:#c9ced6;font-weight:normal;">CB3</div>
<div style="left:734px;top:0px;width:16px;height:638px;background:#161b28;"></div>
<div style="left:736px;top:0px;width:14px;height:638px;background:#121622;"></div>
<svg width="1170" height="638" viewBox="0 0 1170 638">
<g fill="none" stroke="#c9ced6" stroke-width="1.6"><path d="M652 15.5 h-2.5 v9 h2.5"/><path d="M656.5 15.5 q-2.5 0 -2.5 4.5 q0 4.5 2.5 4.5"/><path d="M658 15.5 h2.5 v9 h-2.5"/></g>
<path d="M679.5 25 q-2.5 -5 0 -9 q3 -4 8 -3.5 q4.5 0.5 4.5 5 q0 5 -5 6.5 q-4 1 -7.5 1z" fill="none" stroke="#b9c0ca" stroke-width="1.1"/><circle cx="685.5" cy="18.5" r="2.5" fill="none" stroke="#b9c0ca" stroke-width="1.1"/><line x1="677" y1="27.5" x2="693" y2="27.5" stroke="#b9c0ca" stroke-width="1"/>
<path d="M710 16.5 q3 -2 6 0 q2 1 4 -0.5 q2 -1.5 4 0 q2 1 4 -0.5 M713 18.5 q4 1 9 0.5 M716 18.5 q-2 4 -4.5 8 M721 18.5 q2 4 5 8 M714 24.5 h9" fill="none" stroke="#fbe9e3" stroke-width="1.5" stroke-linecap="round"/>
<circle cx="21" cy="46.5" r="2.6" fill="#f08a2a"/>
<rect x="594.5" y="43" width="8" height="7.5" rx="1" fill="#cfd4db"/><path d="M596 45.5 h5 M596 48 h5 M598.5 44 v5.5" stroke="#2a3245" stroke-width="0.8"/>
<path d="M617 48 q0 -5 5 -5 q3 0 3.5 2.5 l-2.5 1 l2 2 q-1 3 -4 3 q-4 0 -4 -3.5z" fill="#d5d9df"/>
<circle cx="641" cy="46.8" r="3.8" fill="#cfd4db"/><path d="M638.5 45 l5 3" stroke="#2a3245" stroke-width="1"/>
<path d="M656 51 l3 -3 l2 3 M659 48 q-1 -4 2 -5 q3 0 1.5 3 l-3 2" fill="none" stroke="#cfd4db" stroke-width="1.1"/>
<path d="M714 47 L731 46 M722 43 L726 50" stroke="#c9ced6" stroke-width="1.3" fill="none"/>
<circle cx="570" cy="64.5" r="4" fill="none" stroke="#c9ced6" stroke-width="1"/>
<ellipse cx="676" cy="64.5" rx="3.5" ry="2.5" fill="#c0603a"/>
<rect x="686" y="60.5" width="8" height="8" rx="1.5" fill="#3a4356" stroke="#7e8796" stroke-width="0.8"/>
<rect x="700" y="60.5" width="8" height="8" rx="1.5" fill="#3a4356" stroke="#7e8796" stroke-width="0.8"/>
<rect x="715" y="60.5" width="8" height="8" rx="1.5" fill="#3a4356" stroke="#7e8796" stroke-width="0.8"/>
<line x1="19.6" y1="86" x2="19.6" y2="350" stroke="#2a3449" stroke-width="1"/>
<line x1="39.7" y1="86" x2="39.7" y2="350" stroke="#2a3449" stroke-width="1"/>
<line x1="59.8" y1="86" x2="59.8" y2="350" stroke="#2a3449" stroke-width="1"/>
<line x1="79.8" y1="86" x2="79.8" y2="350" stroke="#2a3449" stroke-width="1"/>
<line x1="99.9" y1="86" x2="99.9" y2="350" stroke="#2a3449" stroke-width="1"/>
<line x1="120.0" y1="86" x2="120.0" y2="350" stroke="#2a3449" stroke-width="1"/>
<line x1="140.1" y1="86" x2="140.1" y2="350" stroke="#2a3449" stroke-width="1"/>
<line x1="160.2" y1="86" x2="160.2" y2="350" stroke="#2a3449" stroke-width="1"/>
<line x1="180.2" y1="86" x2="180.2" y2="350" stroke="#2a3449" stroke-width="1"/>
<line x1="200.3" y1="86" x2="200.3" y2="350" stroke="#2a3449" stroke-width="1"/>
<line x1="220.4" y1="86" x2="220.4" y2="350" stroke="#2a3449" stroke-width="1"/>
<line x1="240.5" y1="86" x2="240.5" y2="350" stroke="#2a3449" stroke-width="1"/>
<line x1="260.6" y1="86" x2="260.6" y2="350" stroke="#2a3449" stroke-width="1"/>
<line x1="280.6" y1="86" x2="280.6" y2="350" stroke="#2a3449" stroke-width="1"/>
<line x1="300.7" y1="86" x2="300.7" y2="350" stroke="#2a3449" stroke-width="1"/>
<line x1="320.8" y1="86" x2="320.8" y2="350" stroke="#2a3449" stroke-width="1"/>
<line x1="340.9" y1="86" x2="340.9" y2="350" stroke="#2a3449" stroke-width="1"/>
<line x1="11" y1="105.5" x2="343" y2="105.5" stroke="#2a3449" stroke-width="1"/>
<line x1="11" y1="129.3" x2="343" y2="129.3" stroke="#2a3449" stroke-width="1"/>
<line x1="11" y1="153.1" x2="343" y2="153.1" stroke="#2a3449" stroke-width="1"/>
<line x1="11" y1="176.9" x2="343" y2="176.9" stroke="#2a3449" stroke-width="1"/>
<line x1="11" y1="200.7" x2="343" y2="200.7" stroke="#2a3449" stroke-width="1"/>
<line x1="11" y1="224.5" x2="343" y2="224.5" stroke="#2a3449" stroke-width="1"/>
<line x1="11" y1="248.3" x2="343" y2="248.3" stroke="#2a3449" stroke-width="1"/>
<line x1="11" y1="272.1" x2="343" y2="272.1" stroke="#2a3449" stroke-width="1"/>
<line x1="11" y1="295.9" x2="343" y2="295.9" stroke="#2a3449" stroke-width="1"/>
<line x1="11" y1="319.70000000000005" x2="343" y2="319.70000000000005" stroke="#2a3449" stroke-width="1"/>
<line x1="13" y1="290" x2="13" y2="315" stroke="#e25a50" stroke-width="1" opacity="0.85"/>
<rect x="10.8" y="297" width="4.4" height="11" fill="#e25a50"/>
<line x1="18" y1="300" x2="18" y2="325" stroke="#e25a50" stroke-width="1" opacity="0.85"/>
<rect x="15.8" y="306" width="4.4" height="14" fill="#e25a50"/>
<line x1="22.5" y1="310" x2="22.5" y2="336" stroke="#e25a50" stroke-width="1" opacity="0.85"/>
<rect x="20.3" y="316" width="4.4" height="17" fill="#e25a50"/>
<line x1="27" y1="305" x2="27" y2="333" stroke="#58cfa6" stroke-width="1" opacity="0.85"/>
<rect x="24.8" y="313" width="4.4" height="14" fill="#58cfa6"/>
<line x1="32" y1="300" x2="32" y2="330" stroke="#58cfa6" stroke-width="1" opacity="0.85"/>
<rect x="29.8" y="310" width="4.4" height="12" fill="#58cfa6"/>
<line x1="37" y1="290" x2="37" y2="318" stroke="#58cfa6" stroke-width="1" opacity="0.85"/>
<rect x="34.8" y="298" width="4.4" height="14" fill="#58cfa6"/>
<line x1="42" y1="280" x2="42" y2="315" stroke="#e98a4e" stroke-width="1" opacity="0.85"/>
<rect x="39.8" y="292" width="4.4" height="8" fill="#e98a4e"/>
<line x1="47" y1="268" x2="47" y2="320" stroke="#58cfa6" stroke-width="1" opacity="0.85"/>
<rect x="44.8" y="290" width="4.4" height="20" fill="#58cfa6"/>
<line x1="53" y1="225" x2="53" y2="295" stroke="#58cfa6" stroke-width="1" opacity="0.85"/>
<rect x="50.8" y="230" width="4.4" height="60" fill="#58cfa6"/>
<line x1="58" y1="189" x2="58" y2="260" stroke="#58cfa6" stroke-width="1" opacity="0.85"/>
<rect x="55.8" y="222" width="4.4" height="10" fill="#58cfa6"/>
<line x1="63.5" y1="190" x2="63.5" y2="250" stroke="#e25a50" stroke-width="1" opacity="0.85"/>
<rect x="61.3" y="212" width="4.4" height="28" fill="#e25a50"/>
<line x1="68.5" y1="228" x2="68.5" y2="270" stroke="#e25a50" stroke-width="1" opacity="0.85"/>
<rect x="66.3" y="235" width="4.4" height="30" fill="#e25a50"/>
<line x1="73" y1="240" x2="73" y2="272" stroke="#c9c08f" stroke-width="1" opacity="0.85"/>
<rect x="70.8" y="248" width="4.4" height="17" fill="#c9c08f"/>
<line x1="78" y1="262" x2="78" y2="300" stroke="#e25a50" stroke-width="1" opacity="0.85"/>
<rect x="75.8" y="268" width="4.4" height="28" fill="#e25a50"/>
<line x1="82.5" y1="274" x2="82.5" y2="305" stroke="#e98a4e" stroke-width="1" opacity="0.85"/>
<rect x="80.3" y="280" width="4.4" height="20" fill="#e98a4e"/>
<line x1="88" y1="260" x2="88" y2="295" stroke="#58cfa6" stroke-width="1" opacity="0.85"/>
<rect x="85.8" y="270" width="4.4" height="12" fill="#58cfa6"/>
<line x1="93" y1="258" x2="93" y2="290" stroke="#58cfa6" stroke-width="1" opacity="0.85"/>
<rect x="90.8" y="263" width="4.4" height="16" fill="#58cfa6"/>
<line x1="98" y1="250" x2="98" y2="282" stroke="#e98a4e" stroke-width="1" opacity="0.85"/>
<rect x="95.8" y="265" width="4.4" height="13" fill="#e98a4e"/>
<line x1="103" y1="250" x2="103" y2="290" stroke="#58cfa6" stroke-width="1" opacity="0.85"/>
<rect x="100.8" y="260" width="4.4" height="25" fill="#58cfa6"/>
<line x1="108" y1="250" x2="108" y2="272" stroke="#e98a4e" stroke-width="1" opacity="0.85"/>
<rect x="105.8" y="258" width="4.4" height="7" fill="#e98a4e"/>
<line x1="114" y1="262" x2="114" y2="285" stroke="#e25a50" stroke-width="1" opacity="0.85"/>
<rect x="111.8" y="268" width="4.4" height="12" fill="#e25a50"/>
<line x1="120" y1="268" x2="120" y2="312" stroke="#e25a50" stroke-width="1" opacity="0.85"/>
<rect x="117.8" y="276" width="4.4" height="32" fill="#e25a50"/>
<line x1="125" y1="285" x2="125" y2="320" stroke="#e25a50" stroke-width="1" opacity="0.85"/>
<rect x="122.8" y="290" width="4.4" height="22" fill="#e25a50"/>
<line x1="129" y1="295" x2="129" y2="318" stroke="#58cfa6" stroke-width="1" opacity="0.85"/>
<rect x="126.8" y="300" width="4.4" height="12" fill="#58cfa6"/>
<line x1="133" y1="292" x2="133" y2="330" stroke="#58cfa6" stroke-width="1" opacity="0.85"/>
<rect x="130.8" y="300" width="4.4" height="15" fill="#58cfa6"/>
<line x1="137.5" y1="265" x2="137.5" y2="318" stroke="#58cfa6" stroke-width="1" opacity="0.85"/>
<rect x="135.3" y="272" width="4.4" height="40" fill="#58cfa6"/>
<line x1="142.5" y1="245" x2="142.5" y2="280" stroke="#58cfa6" stroke-width="1" opacity="0.85"/>
<rect x="140.3" y="257" width="4.4" height="11" fill="#58cfa6"/>
<line x1="148" y1="238" x2="148" y2="272" stroke="#58cfa6" stroke-width="1" opacity="0.85"/>
<rect x="145.8" y="247" width="4.4" height="19" fill="#58cfa6"/>
<line x1="153" y1="225" x2="153" y2="262" stroke="#58cfa6" stroke-width="1" opacity="0.85"/>
<rect x="150.8" y="235" width="4.4" height="22" fill="#58cfa6"/>
<line x1="158" y1="150" x2="158" y2="248" stroke="#58cfa6" stroke-width="1" opacity="0.85"/>
<rect x="155.8" y="178" width="4.4" height="65" fill="#58cfa6"/>
<line x1="162.5" y1="147" x2="162.5" y2="182" stroke="#58cfa6" stroke-width="1" opacity="0.85"/>
<rect x="160.3" y="157" width="4.4" height="21" fill="#58cfa6"/>
<line x1="168" y1="160" x2="168" y2="227" stroke="#e25a50" stroke-width="1" opacity="0.85"/>
<rect x="165.8" y="178" width="4.4" height="30" fill="#e25a50"/>
<line x1="174" y1="185" x2="174" y2="215" stroke="#c9c08f" stroke-width="1" opacity="0.85"/>
<rect x="171.8" y="196" width="4.4" height="10" fill="#c9c08f"/>
<line x1="178" y1="175" x2="178" y2="210" stroke="#58cfa6" stroke-width="1" opacity="0.85"/>
<rect x="175.8" y="184" width="4.4" height="18" fill="#58cfa6"/>
<line x1="183" y1="170" x2="183" y2="195" stroke="#58cfa6" stroke-width="1" opacity="0.85"/>
<rect x="180.8" y="178" width="4.4" height="6" fill="#58cfa6"/>
<line x1="188.5" y1="157" x2="188.5" y2="192" stroke="#e98a4e" stroke-width="1" opacity="0.85"/>
<rect x="186.3" y="176" width="4.4" height="10" fill="#e98a4e"/>
<line x1="194" y1="175" x2="194" y2="225" stroke="#e25a50" stroke-width="1" opacity="0.85"/>
<rect x="191.8" y="180" width="4.4" height="39" fill="#e25a50"/>
<line x1="199" y1="192" x2="199" y2="222" stroke="#58cfa6" stroke-width="1" opacity="0.85"/>
<rect x="196.8" y="199" width="4.4" height="17" fill="#58cfa6"/>
<line x1="203.5" y1="208" x2="203.5" y2="247" stroke="#e25a50" stroke-width="1" opacity="0.85"/>
<rect x="201.3" y="214" width="4.4" height="24" fill="#e25a50"/>
<line x1="208" y1="218" x2="208" y2="279" stroke="#c9c08f" stroke-width="1" opacity="0.85"/>
<rect x="205.8" y="225" width="4.4" height="13" fill="#c9c08f"/>
<line x1="213" y1="222" x2="213" y2="274" stroke="#e25a50" stroke-width="1" opacity="0.85"/>
<rect x="210.8" y="228" width="4.4" height="21" fill="#e25a50"/>
<line x1="218.5" y1="230" x2="218.5" y2="258" stroke="#58cfa6" stroke-width="1" opacity="0.85"/>
<rect x="216.3" y="236" width="4.4" height="13" fill="#58cfa6"/>
<line x1="223.5" y1="192" x2="223.5" y2="250" stroke="#58cfa6" stroke-width="1" opacity="0.85"/>
<rect x="221.3" y="199" width="4.4" height="45" fill="#58cfa6"/>
<line x1="229" y1="158" x2="229" y2="221" stroke="#58cfa6" stroke-width="1" opacity="0.85"/>
<rect x="226.8" y="164" width="4.4" height="32" fill="#58cfa6"/>
<line x1="234" y1="150" x2="234" y2="200" stroke="#58cfa6" stroke-width="1" opacity="0.85"/>
<rect x="231.8" y="158" width="4.4" height="36" fill="#58cfa6"/>
<line x1="239" y1="131" x2="239" y2="178" stroke="#58cfa6" stroke-width="1" opacity="0.85"/>
<rect x="236.8" y="153" width="4.4" height="19" fill="#58cfa6"/>
<line x1="243.5" y1="131" x2="243.5" y2="166" stroke="#e25a50" stroke-width="1" opacity="0.85"/>
<rect x="241.3" y="141" width="4.4" height="20" fill="#e25a50"/>
<line x1="248" y1="150" x2="248" y2="208" stroke="#e25a50" stroke-width="1" opacity="0.85"/>
<rect x="245.8" y="156" width="4.4" height="27" fill="#e25a50"/>
<line x1="253" y1="155" x2="253" y2="210" stroke="#58cfa6" stroke-width="1" opacity="0.85"/>
<rect x="250.8" y="163" width="4.4" height="20" fill="#58cfa6"/>
<line x1="259" y1="111" x2="259" y2="168" stroke="#58cfa6" stroke-width="1" opacity="0.85"/>
<rect x="256.8" y="141" width="4.4" height="22" fill="#58cfa6"/>
<line x1="264.5" y1="111" x2="264.5" y2="165" stroke="#58cfa6" stroke-width="1" opacity="0.85"/>
<rect x="262.3" y="128" width="4.4" height="32" fill="#58cfa6"/>
<line x1="270" y1="122" x2="270" y2="212" stroke="#e25a50" stroke-width="1" opacity="0.85"/>
<rect x="267.8" y="128" width="4.4" height="79" fill="#e25a50"/>
<line x1="276" y1="200" x2="276" y2="236" stroke="#e25a50" stroke-width="1" opacity="0.85"/>
<rect x="273.8" y="205" width="4.4" height="19" fill="#e25a50"/>
<line x1="281" y1="196" x2="281" y2="247" stroke="#58cfa6" stroke-width="1" opacity="0.85"/>
<rect x="278.8" y="207" width="4.4" height="17" fill="#58cfa6"/>
<line x1="286" y1="202" x2="286" y2="235" stroke="#58cfa6" stroke-width="1" opacity="0.85"/>
<rect x="283.8" y="208" width="4.4" height="20" fill="#58cfa6"/>
<line x1="290.5" y1="225" x2="290.5" y2="305" stroke="#e25a50" stroke-width="1" opacity="0.85"/>
<rect x="288.3" y="231" width="4.4" height="63" fill="#e25a50"/>
<line x1="296" y1="268" x2="296" y2="318" stroke="#e25a50" stroke-width="1" opacity="0.85"/>
<rect x="293.8" y="274" width="4.4" height="32" fill="#e25a50"/>
<line x1="302" y1="265" x2="302" y2="315" stroke="#58cfa6" stroke-width="1" opacity="0.85"/>
<rect x="299.8" y="272" width="4.4" height="34" fill="#58cfa6"/>
<line x1="307.5" y1="240" x2="307.5" y2="296" stroke="#58cfa6" stroke-width="1" opacity="0.85"/>
<rect x="305.3" y="249" width="4.4" height="41" fill="#58cfa6"/>
<line x1="314.5" y1="215" x2="314.5" y2="252" stroke="#58cfa6" stroke-width="1" opacity="0.85"/>
<rect x="312.3" y="221" width="4.4" height="26" fill="#58cfa6"/>
<line x1="320.5" y1="198" x2="320.5" y2="235" stroke="#58cfa6" stroke-width="1" opacity="0.85"/>
<rect x="318.3" y="212" width="4.4" height="17" fill="#58cfa6"/>
<line x1="326.5" y1="208" x2="326.5" y2="251" stroke="#e25a50" stroke-width="1" opacity="0.85"/>
<rect x="324.3" y="215" width="4.4" height="18" fill="#e25a50"/>
<line x1="331.5" y1="215" x2="331.5" y2="250" stroke="#c9c08f" stroke-width="1" opacity="0.85"/>
<rect x="329.3" y="221" width="4.4" height="24" fill="#c9c08f"/>
<line x1="335.5" y1="182" x2="335.5" y2="230" stroke="#58cfa6" stroke-width="1" opacity="0.85"/>
<rect x="333.3" y="188" width="4.4" height="37" fill="#58cfa6"/>
<line x1="340.5" y1="131" x2="340.5" y2="205" stroke="#58cfa6" stroke-width="1" opacity="0.85"/>
<rect x="338.3" y="151" width="4.4" height="49" fill="#58cfa6"/>
<rect x="344.5" y="114" width="2" height="82" fill="#e4604d"/>
<rect x="13.0" y="334" width="4" height="3" fill="#41c8b8" opacity="0.85"/>
<rect x="18.0" y="335" width="4" height="2" fill="#e4604d" opacity="0.85"/>
<rect x="24.0" y="331" width="2" height="6" fill="#e4604d" opacity="0.85"/>
<rect x="26.5" y="334" width="1.5" height="3" fill="#e98a4e" opacity="0.85"/>
<rect x="28.5" y="332" width="3" height="5" fill="#e4604d" opacity="0.85"/>
<rect x="34.5" y="335" width="2" height="2" fill="#41c8b8" opacity="0.85"/>
<rect x="37.0" y="334" width="3" height="3" fill="#4fcea5" opacity="0.85"/>
<rect x="42.0" y="335" width="2" height="2" fill="#4fcea5" opacity="0.85"/>
<rect x="47.0" y="333" width="4" height="4" fill="#4fcea5" opacity="0.85"/>
<rect x="51.5" y="335" width="1.5" height="2" fill="#4fcea5" opacity="0.85"/>
<rect x="53.5" y="334" width="2" height="3" fill="#52c98a" opacity="0.85"/>
<rect x="56.5" y="332" width="2" height="5" fill="#41c8b8" opacity="0.85"/>
<rect x="63.5" y="334" width="2" height="3" fill="#41c8b8" opacity="0.85"/>
<rect x="66.0" y="334" width="3" height="3" fill="#e4604d" opacity="0.85"/>
<rect x="70.0" y="334" width="3" height="3" fill="#4fcea5" opacity="0.85"/>
<rect x="74.0" y="334" width="1.5" height="3" fill="#52c98a" opacity="0.85"/>
<rect x="78.5" y="335" width="4" height="2" fill="#d9a24a" opacity="0.85"/>
<rect x="87.5" y="335" width="2.5" height="2" fill="#52c98a" opacity="0.85"/>
<rect x="91.0" y="333" width="2.5" height="4" fill="#41c8b8" opacity="0.85"/>
<rect x="94.5" y="333" width="2" height="4" fill="#e98a4e" opacity="0.85"/>
<rect x="101.5" y="335" width="2" height="2" fill="#52c98a" opacity="0.85"/>
<rect x="103.5" y="333" width="2.5" height="4" fill="#e4604d" opacity="0.85"/>
<rect x="109.0" y="334" width="3" height="3" fill="#e98a4e" opacity="0.85"/>
<rect x="115.0" y="333" width="1.5" height="4" fill="#e4604d" opacity="0.85"/>
<rect x="121.5" y="332" width="2" height="5" fill="#4fcea5" opacity="0.85"/>
<rect x="123.5" y="333" width="2" height="4" fill="#52c98a" opacity="0.85"/>
<rect x="128.5" y="332" width="2.5" height="5" fill="#52c98a" opacity="0.85"/>
<rect x="133.0" y="332" width="1.5" height="5" fill="#41c8b8" opacity="0.85"/>
<rect x="135.5" y="335" width="2.5" height="2" fill="#e98a4e" opacity="0.85"/>
<rect x="138.0" y="334" width="2" height="3" fill="#d9a24a" opacity="0.85"/>
<rect x="143.0" y="334" width="2.5" height="3" fill="#52c98a" opacity="0.85"/>
<rect x="146.5" y="335" width="4" height="2" fill="#52c98a" opacity="0.85"/>
<rect x="155.5" y="334" width="2.5" height="3" fill="#4fcea5" opacity="0.85"/>
<rect x="158.0" y="331" width="2" height="6" fill="#41c8b8" opacity="0.85"/>
<rect x="161.0" y="334" width="3" height="3" fill="#41c8b8" opacity="0.85"/>
<rect x="164.0" y="332" width="1.5" height="5" fill="#d9a24a" opacity="0.85"/>
<rect x="167.5" y="334" width="1.5" height="3" fill="#41c8b8" opacity="0.85"/>
<rect x="172.0" y="334" width="2.5" height="3" fill="#e98a4e" opacity="0.85"/>
<rect x="179.5" y="334" width="3" height="3" fill="#e4604d" opacity="0.85"/>
<rect x="187.5" y="333" width="1.5" height="4" fill="#52c98a" opacity="0.85"/>
<rect x="189.5" y="331" width="2" height="6" fill="#d9a24a" opacity="0.85"/>
<rect x="192.0" y="335" width="3" height="2" fill="#4fcea5" opacity="0.85"/>
<rect x="197.0" y="334" width="2.5" height="3" fill="#e4604d" opacity="0.85"/>
<rect x="201.5" y="334" width="2.5" height="3" fill="#e98a4e" opacity="0.85"/>
<rect x="207.0" y="332" width="2" height="5" fill="#e98a4e" opacity="0.85"/>
<rect x="211.0" y="333" width="2.5" height="4" fill="#52c98a" opacity="0.85"/>
<rect x="214.5" y="333" width="3" height="4" fill="#4fcea5" opacity="0.85"/>
<rect x="217.5" y="332" width="3" height="5" fill="#4fcea5" opacity="0.85"/>
<rect x="225.5" y="334" width="3" height="3" fill="#4fcea5" opacity="0.85"/>
<rect x="228.5" y="334" width="3" height="3" fill="#d9a24a" opacity="0.85"/>
<rect x="234.5" y="334" width="4" height="3" fill="#e4604d" opacity="0.85"/>
<rect x="239.5" y="331" width="4" height="6" fill="#e4604d" opacity="0.85"/>
<rect x="244.5" y="332" width="2.5" height="5" fill="#41c8b8" opacity="0.85"/>
<rect x="252.0" y="333" width="2.5" height="4" fill="#52c98a" opacity="0.85"/>
<rect x="259.5" y="334" width="2.5" height="3" fill="#41c8b8" opacity="0.85"/>
<rect x="262.5" y="335" width="4" height="2" fill="#e98a4e" opacity="0.85"/>
<rect x="269.5" y="334" width="2.5" height="3" fill="#41c8b8" opacity="0.85"/>
<rect x="273.0" y="334" width="3" height="3" fill="#e4604d" opacity="0.85"/>
<rect x="279.0" y="334" width="2.5" height="3" fill="#52c98a" opacity="0.85"/>
<rect x="286.5" y="331" width="2.5" height="6" fill="#e4604d" opacity="0.85"/>
<rect x="291.0" y="334" width="2.5" height="3" fill="#e4604d" opacity="0.85"/>
<rect x="298.5" y="334" width="3" height="3" fill="#52c98a" opacity="0.85"/>
<rect x="304.5" y="332" width="2" height="5" fill="#4fcea5" opacity="0.85"/>
<rect x="307.0" y="333" width="2.5" height="4" fill="#52c98a" opacity="0.85"/>
<rect x="314.5" y="331" width="1.5" height="6" fill="#41c8b8" opacity="0.85"/>
<rect x="321.0" y="334" width="3" height="3" fill="#d9a24a" opacity="0.85"/>
<rect x="327.0" y="331" width="4" height="6" fill="#e98a4e" opacity="0.85"/>
<rect x="332.0" y="332" width="4" height="5" fill="#e4604d" opacity="0.85"/>
<rect x="341.0" y="331" width="2.5" height="6" fill="#e4604d" opacity="0.85"/>
<rect x="151" y="328" width="15" height="9" fill="#ee7a2e"/>
<line x1="11" y1="337.5" x2="343" y2="337.5" stroke="#8a93a3" stroke-width="0.8" stroke-dasharray="2 1.5"/>
<rect x="13" y="355" width="4" height="5" fill="#7e8796"/><circle cx="156" cy="357.5" r="2" fill="#5d6576"/>
<circle cx="15.5" cy="370" r="2.3" fill="none" stroke="#7fd67f" stroke-width="1"/>
<rect x="103.5" y="367" width="9" height="6" rx="2" fill="none" stroke="#c9ced6" stroke-width="1"/>
<circle cx="300" cy="384" r="3.5" fill="#3a4356" stroke="#9aa3b1" stroke-width="0.8"/>
<circle cx="334" cy="384" r="3" fill="none" stroke="#9aa3b1" stroke-width="0.9"/>
<line x1="15.5" y1="391" x2="15.5" y2="562" stroke="#2a3449" stroke-width="1"/>
<line x1="34.5" y1="391" x2="34.5" y2="562" stroke="#2a3449" stroke-width="1"/>
<line x1="53.6" y1="391" x2="53.6" y2="562" stroke="#2a3449" stroke-width="1"/>
<line x1="72.7" y1="391" x2="72.7" y2="562" stroke="#2a3449" stroke-width="1"/>
<line x1="91.7" y1="391" x2="91.7" y2="562" stroke="#2a3449" stroke-width="1"/>
<line x1="110.8" y1="391" x2="110.8" y2="562" stroke="#2a3449" stroke-width="1"/>
<line x1="129.8" y1="391" x2="129.8" y2="562" stroke="#2a3449" stroke-width="1"/>
<line x1="148.8" y1="391" x2="148.8" y2="562" stroke="#2a3449" stroke-width="1"/>
<line x1="167.9" y1="391" x2="167.9" y2="562" stroke="#2a3449" stroke-width="1"/>
<line x1="187.0" y1="391" x2="187.0" y2="562" stroke="#2a3449" stroke-width="1"/>
<line x1="206.0" y1="391" x2="206.0" y2="562" stroke="#2a3449" stroke-width="1"/>
<line x1="225.1" y1="391" x2="225.1" y2="562" stroke="#2a3449" stroke-width="1"/>
<line x1="244.1" y1="391" x2="244.1" y2="562" stroke="#2a3449" stroke-width="1"/>
<line x1="263.1" y1="391" x2="263.1" y2="562" stroke="#2a3449" stroke-width="1"/>
<line x1="282.2" y1="391" x2="282.2" y2="562" stroke="#2a3449" stroke-width="1"/>
<line x1="301.2" y1="391" x2="301.2" y2="562" stroke="#2a3449" stroke-width="1"/>
<line x1="320.3" y1="391" x2="320.3" y2="562" stroke="#2a3449" stroke-width="1"/>
<line x1="11" y1="393" x2="319" y2="393" stroke="#2a3449" stroke-width="1"/>
<line x1="11" y1="431.5" x2="319" y2="431.5" stroke="#2a3449" stroke-width="1"/>
<line x1="11" y1="452" x2="319" y2="452" stroke="#2a3449" stroke-width="1"/>
<line x1="11" y1="472" x2="319" y2="472" stroke="#2a3449" stroke-width="1"/>
<line x1="11" y1="492.5" x2="319" y2="492.5" stroke="#2a3449" stroke-width="1"/>
<line x1="11" y1="513" x2="319" y2="513" stroke="#2a3449" stroke-width="1"/>
<line x1="11" y1="533" x2="319" y2="533" stroke="#2a3449" stroke-width="1"/>
<line x1="11" y1="553.5" x2="319" y2="553.5" stroke="#2a3449" stroke-width="1"/>
<line x1="14" y1="414" x2="319" y2="414" stroke="#7d8698" stroke-width="0.9" stroke-dasharray="1.5 1.5"/>
<line x1="319" y1="391" x2="319" y2="562" stroke="#3a4358" stroke-width="1"/>
<defs>
<linearGradient id="gt" x1="0" y1="0" x2="0" y2="1"><stop offset="0" stop-color="#45bcb6"/><stop offset="1" stop-color="#62b894"/></linearGradient>
<linearGradient id="gy" x1="0" y1="0" x2="0" y2="1"><stop offset="0" stop-color="#8fca5c"/><stop offset="1" stop-color="#6fb98a"/></linearGradient>
<linearGradient id="gb" x1="0" y1="0" x2="0" y2="1"><stop offset="0" stop-color="#3aa9cf"/><stop offset="1" stop-color="#4bb3a6"/></linearGradient>
<linearGradient id="go" x1="0" y1="0" x2="0" y2="1"><stop offset="0" stop-color="#f08a2c"/><stop offset="1" stop-color="#e0702a"/></linearGradient>
<linearGradient id="gg" x1="0" y1="0" x2="0" y2="1"><stop offset="0" stop-color="#9cc84a"/><stop offset="1" stop-color="#d68a30"/></linearGradient>
<linearGradient id="gog" x1="0" y1="0" x2="0" y2="1"><stop offset="0" stop-color="#ee8a30"/><stop offset="0.45" stop-color="#e39a3a"/><stop offset="1" stop-color="#8ec04a"/></linearGradient>
</defs>
<rect x="15" y="535" width="4.1" height="26.5" fill="url(#gy)"/>
<rect x="20.7" y="525" width="1.5" height="36.5" fill="url(#gt)"/>
<rect x="23" y="486" width="3.9" height="75.5" fill="url(#gt)"/>
<rect x="27.6" y="490" width="5.0" height="71.5" fill="url(#gt)"/>
<rect x="33.2" y="512" width="4.7" height="49.5" fill="url(#gt)"/>
<rect x="38.9" y="519" width="4.7" height="42.5" fill="url(#gt)"/>
<rect x="45" y="481" width="4.6" height="80.5" fill="url(#gy)"/>
<rect x="50.8" y="410" width="4.0" height="151.5" fill="url(#gt)"/>
<rect x="55.8" y="508" width="4.0" height="53.5" fill="url(#gt)"/>
<rect x="60.8" y="510" width="4.0" height="51.5" fill="url(#gt)"/>
<rect x="65.8" y="503.5" width="4.7" height="58.0" fill="url(#gt)"/>
<rect x="72" y="523" width="4.6" height="38.5" fill="url(#gt)"/>
<rect x="78.4" y="528.6" width="4.2" height="32.9" fill="url(#gt)"/>
<rect x="84" y="523" width="4.6" height="38.5" fill="url(#gt)"/>
<rect x="90" y="499.4" width="4.6" height="62.1" fill="url(#gt)"/>
<rect x="95.6" y="501" width="4.0" height="60.5" fill="url(#gt)"/>
<rect x="101" y="515" width="5.2" height="46.5" fill="url(#gt)"/>
<rect x="107" y="514.5" width="4.6" height="47.0" fill="url(#gt)"/>
<rect x="113" y="485" width="4.2" height="76.5" fill="url(#gt)"/>
<rect x="118.5" y="471" width="4.1" height="90.5" fill="url(#gt)"/>
<rect x="124" y="535.5" width="4.2" height="26.0" fill="url(#gt)"/>
<rect x="129" y="541.7" width="2.3" height="19.8" fill="url(#gt)"/>
<rect x="132" y="535" width="3.6" height="26.5" fill="url(#gt)"/>
<rect x="137" y="459" width="4.3" height="102.5" fill="url(#gt)"/>
<rect x="142.7" y="525.4" width="4.3" height="36.1" fill="url(#gt)"/>
<rect x="148" y="543" width="4.6" height="18.5" fill="url(#gy)"/>
<rect x="154" y="502" width="4.6" height="59.5" fill="url(#gt)"/>
<rect x="160" y="520.7" width="4.2" height="40.8" fill="url(#gt)"/>
<rect x="165" y="533" width="5.6" height="28.5" fill="url(#gt)"/>
<rect x="171" y="531.7" width="3.6" height="29.8" fill="url(#gt)"/>
<rect x="174.5" y="528.6" width="3.4" height="32.9" fill="url(#gt)"/>
<rect x="178.8" y="505" width="4.8" height="56.5" fill="url(#gt)"/>
<rect x="185" y="524.5" width="4.4" height="37.0" fill="url(#gy)"/>
<rect x="191" y="465.8" width="4.3" height="95.7" fill="url(#gt)"/>
<rect x="196.3" y="491" width="4.0" height="70.5" fill="url(#gt)"/>
<rect x="201.4" y="509.7" width="4.2" height="51.8" fill="url(#gt)"/>
<rect x="207" y="505" width="4.3" height="56.5" fill="url(#gy)"/>
<rect x="212.6" y="483" width="4.7" height="78.5" fill="url(#gt)"/>
<rect x="218" y="440.8" width="4.6" height="120.7" fill="url(#gy)"/>
<rect x="224" y="411" width="4.6" height="150.5" fill="url(#gb)"/>
<rect x="229.6" y="505" width="5.0" height="56.5" fill="url(#gt)"/>
<rect x="235.8" y="497" width="4.4" height="64.5" fill="url(#gt)"/>
<rect x="241.5" y="482" width="4.1" height="79.5" fill="url(#gt)"/>
<rect x="247" y="527" width="4.6" height="34.5" fill="url(#gb)"/>
<rect x="253" y="506.6" width="4.4" height="54.9" fill="url(#gt)"/>
<rect x="258.7" y="439" width="4.3" height="122.5" fill="url(#gt)"/>
<rect x="264" y="503.5" width="4.6" height="58.0" fill="url(#gt)"/>
<rect x="270" y="526" width="4.6" height="35.5" fill="url(#gt)"/>
<rect x="276" y="501" width="4.3" height="60.5" fill="url(#gt)"/>
<rect x="281" y="529" width="4.6" height="32.5" fill="url(#gt)"/>
<rect x="287" y="532" width="4.6" height="29.5" fill="url(#gt)"/>
<rect x="293" y="522" width="4.2" height="39.5" fill="url(#gt)"/>
<rect x="298.6" y="524.8" width="4.0" height="36.7" fill="url(#gy)"/>
<rect x="304" y="511" width="4.6" height="50.5" fill="url(#gt)"/>
<rect x="310" y="495" width="3.6" height="66.5" fill="url(#gy)"/>
<rect x="315" y="519" width="3.6" height="42.5" fill="url(#gt)"/>
<path d="M412 78 l3 2 -3 2" fill="none" stroke="#9aa3b1" stroke-width="0.8"/>
<path d="M544 82 l3 -3 M544 79 l3 3" stroke="#9aa3b1" stroke-width="0.9"/><path d="M554 78 l3 3 3 -3" fill="none" stroke="#9aa3b1" stroke-width="0.9"/>
<rect x="553" y="88" width="8" height="10" fill="#3a4356"/>
<line x1="352" y1="101" x2="352" y2="310" stroke="#2a3449" stroke-width="1"/>
<line x1="370" y1="101" x2="370" y2="310" stroke="#2a3449" stroke-width="1"/>
<line x1="389" y1="101" x2="389" y2="310" stroke="#2a3449" stroke-width="1"/>
<line x1="408" y1="101" x2="408" y2="310" stroke="#2a3449" stroke-width="1"/>
<line x1="426.5" y1="101" x2="426.5" y2="310" stroke="#2a3449" stroke-width="1"/>
<line x1="444" y1="101" x2="444" y2="310" stroke="#2a3449" stroke-width="1"/>
<line x1="463" y1="101" x2="463" y2="310" stroke="#2a3449" stroke-width="1"/>
<line x1="481.5" y1="101" x2="481.5" y2="310" stroke="#2a3449" stroke-width="1"/>
<line x1="500" y1="101" x2="500" y2="310" stroke="#2a3449" stroke-width="1"/>
<line x1="346" y1="102" x2="551" y2="102" stroke="#2a3449" stroke-width="1"/>
<line x1="346" y1="121" x2="551" y2="121" stroke="#2a3449" stroke-width="1"/>
<line x1="346" y1="140" x2="551" y2="140" stroke="#2a3449" stroke-width="1"/>
<line x1="346" y1="159" x2="551" y2="159" stroke="#2a3449" stroke-width="1"/>
<line x1="346" y1="178" x2="551" y2="178" stroke="#2a3449" stroke-width="1"/>
<line x1="346" y1="197" x2="551" y2="197" stroke="#2a3449" stroke-width="1"/>
<line x1="346" y1="216" x2="551" y2="216" stroke="#2a3449" stroke-width="1"/>
<line x1="346" y1="235" x2="551" y2="235" stroke="#2a3449" stroke-width="1"/>
<line x1="346" y1="254" x2="551" y2="254" stroke="#2a3449" stroke-width="1"/>
<line x1="346" y1="273" x2="551" y2="273" stroke="#2a3449" stroke-width="1"/>
<line x1="346" y1="292" x2="551" y2="292" stroke="#2a3449" stroke-width="1"/>
<line x1="346" y1="311" x2="551" y2="311" stroke="#2a3449" stroke-width="1"/>
<polyline fill="none" stroke-linejoin="round" stroke="#3fb8c8" stroke-width="1.1" points="370.0,186.0 371.2,183.7 372.5,183.1 373.8,181.2 375.0,178.6 376.2,177.2 377.5,175.4 378.8,174.0 380.0,172.0 382.0,171.3 384.0,169.0 386.0,167.6 388.0,167.7 390.0,166.0 391.6,164.7 393.2,164.0 394.8,161.6 396.4,161.1 398.0,160.0 398.8,158.5 399.5,155.8 400.2,155.1 401.0,153.1 401.8,149.9 402.5,148.0 403.2,146.9 404.0,145.0 405.0,143.9 406.0,141.2 407.0,139.1 408.0,137.7 409.0,136.0 409.4,137.2 409.9,139.6 410.3,141.9 410.7,144.0 411.1,145.6 411.6,147.6 412.0,150.0 412.3,151.6 412.7,153.9 413.0,155.7 413.3,157.2 413.7,160.5 414.0,162.1 414.3,164.2 414.7,165.5 415.0,168.0 417.5,169.8 420.0,170.0 422.0,169.2 424.0,166.7 426.0,166.0 427.3,164.1 428.7,163.0 430.0,161.3 431.3,160.0 432.7,157.5 434.0,156.0 435.6,154.9 437.2,153.1 438.8,150.9 440.4,149.7 442.0,148.0 444.0,148.1 446.0,147.6 448.0,146.5 450.0,146.0 451.6,144.9 453.2,142.9 454.8,142.0 456.4,141.7 458.0,140.0 460.0,138.9 462.0,137.5 464.0,137.1 466.0,136.0 468.0,135.7 470.0,135.1 472.0,134.0 474.0,133.5 476.0,133.0 478.0,133.6 480.0,134.6 482.0,134.8 484.0,135.2 486.0,136.0 488.0,134.7 490.0,132.7 492.0,131.5 494.0,131.0 496.0,130.7 498.0,130.6 500.0,129.3 502.0,128.4 504.0,128.0 506.0,127.1 508.0,127.2 510.0,127.6 512.0,126.8 514.0,126.0 516.0,125.6 518.0,125.6 520.0,124.1 522.0,124.0"/>
<polyline fill="none" stroke-linejoin="round" stroke="#3b8fd8" stroke-width="1.0" points="408.0,137.0 408.0,139.0 408.0,141.0 408.0,143.0 408.0,145.0 408.0,147.0 408.0,149.0 408.0,151.0 408.0,153.0 408.0,155.0 408.0,157.0 408.0,159.0 408.0,161.0 408.0,163.0 408.0,165.0 408.0,167.0 408.0,169.0 408.0,171.0 408.0,173.0 408.0,175.0 408.0,177.0 408.0,179.0 408.0,181.0 408.0,183.0 408.0,185.0 406.0,185.5 404.0,186.0 402.0,186.5 400.0,187.0 398.0,187.5 396.0,188.0 394.0,188.2 392.0,188.5 390.0,188.8 388.0,189.0 386.0,189.2 384.0,189.5 382.0,189.8 380.0,190.0 378.0,190.2 376.0,190.4 374.0,190.6 372.0,190.8 370.0,191.0 368.0,191.2 366.0,191.4 364.0,191.6 362.0,191.8 360.0,192.0 358.0,192.2 356.0,192.3 354.0,192.5 352.0,192.7 350.0,192.8 348.0,193.0"/>
<polyline fill="none" stroke-linejoin="round" stroke="#d9453e" stroke-width="1.0" points="370.0,190.0 372.0,188.4 374.0,187.7 376.0,186.2 378.0,185.4 380.0,184.0 382.0,183.2 384.0,181.3 386.0,180.2 388.0,180.5 390.0,178.6 392.0,178.0 393.0,175.8 394.0,175.2 395.0,172.6 396.0,171.3 397.0,169.0 398.0,167.4 399.0,164.8 400.0,163.8 401.0,162.4 402.0,160.0 402.6,158.1 403.2,156.6 403.8,154.5 404.3,151.6 404.9,150.8 405.5,148.6 406.1,146.3 406.7,143.9 407.2,143.3 407.8,140.8 408.4,139.3 409.0,137.0 409.4,139.6 409.9,141.3 410.3,143.7 410.8,144.8 411.2,147.5 411.7,148.9 412.1,151.7 412.6,153.6 413.0,155.0 413.7,156.5 414.4,158.7 415.1,161.0 415.9,164.3 416.6,165.6 417.3,168.1 418.0,170.0 420.0,170.7 422.0,172.0 424.0,172.8 426.0,174.0 428.0,174.3 430.0,175.1 432.0,175.6 434.0,176.0 435.6,175.4 437.2,173.9 438.8,173.1 440.4,171.8 442.0,170.0 443.4,169.4 444.9,167.4 446.3,165.2 447.7,164.9 449.1,163.6 450.6,162.1 452.0,160.0 453.7,158.8 455.3,157.7 457.0,155.5 458.7,155.2 460.3,153.5 462.0,152.0 464.0,150.5 466.0,148.9 468.0,149.0 470.0,148.0 472.0,146.0 474.0,144.1 476.0,144.1 478.0,142.3 480.0,140.6 482.0,140.0 483.7,138.2 485.3,137.4 487.0,136.1 488.7,133.3 490.3,132.7 492.0,131.0 494.0,129.5 496.0,129.8 498.0,128.5 500.0,128.0 502.0,128.6 504.0,128.8 506.0,128.0 508.0,128.8 510.0,128.0 512.0,127.3 514.0,126.5 516.0,127.0 518.0,125.7 520.0,126.0"/>
<polyline fill="none" stroke-linejoin="round" stroke="#9fb33a" stroke-width="1.0" points="370.0,190.0 372.0,188.4 374.0,187.0 376.0,186.3 378.0,184.8 380.0,183.5 382.0,183.0 384.0,182.4 386.0,182.8 388.0,182.2 390.0,181.7 392.0,180.4 394.0,180.5 396.0,180.0 398.0,178.9 400.0,178.0 402.0,177.2 404.0,176.7 406.0,177.1 408.0,176.2 410.0,175.0 411.7,174.2 413.3,172.8 415.0,170.5 416.7,169.4 418.3,168.5 420.0,167.0 422.0,167.5 424.0,167.9 426.0,168.1 428.0,167.0 430.0,168.0 432.0,168.0 434.0,168.3 436.0,168.0 438.0,167.5 440.0,168.0 442.0,167.3 444.0,168.7 446.0,168.0 448.0,168.4 450.0,167.8 452.0,167.3 454.0,168.1 456.0,167.4 458.0,167.8 460.0,167.0 462.0,167.7 464.0,167.3 466.0,167.3 468.0,167.7 470.0,167.6 472.0,167.3 474.0,168.0 476.0,167.8 478.0,168.8 480.0,167.6 482.0,167.8 484.0,168.8 486.0,168.4 488.0,168.9 490.0,169.0 492.0,168.5 494.0,167.9 496.0,168.5 498.0,166.8 500.0,166.7 502.0,166.0 504.0,166.0 506.0,165.8 508.0,164.8 510.0,164.4 512.0,164.6 514.0,163.5 516.0,163.4 518.0,163.5 520.0,161.8 522.0,162.0"/>
<polyline fill="none" stroke-linejoin="round" stroke="#2f8fa8" stroke-width="1.0" points="348.0,190.0 350.0,189.9 352.0,189.8 354.0,189.7 356.0,189.6 358.0,189.3 360.0,189.2 362.0,188.4 364.0,188.5 366.0,188.7 368.0,188.3 370.0,188.0 372.0,188.4 374.0,187.9 376.0,188.3 378.0,188.2 380.0,188.5 382.0,188.7 384.0,188.3 386.0,188.6 388.0,188.7 390.0,189.0 392.0,189.6 394.0,189.8 396.0,189.6 398.0,190.4 400.0,190.2 402.0,190.9 404.0,190.8 406.0,191.0 408.0,192.0 410.0,192.0 412.0,191.9 414.0,192.1 416.0,192.8 418.0,192.9 420.0,192.5 422.0,193.2 424.0,193.0 426.0,192.7 428.0,192.5 430.0,191.9 432.0,192.2 434.0,191.7 436.0,191.6 438.0,191.2 440.0,190.4 442.0,190.2 444.0,190.0 446.0,189.5 448.0,189.3 450.0,189.0 452.0,189.0 454.0,189.0 456.0,188.3 458.0,188.6 460.0,188.1 462.0,188.0 464.0,186.8 466.0,186.3 468.0,185.0 470.0,183.9 472.0,183.0 474.0,182.0 476.0,181.7 478.0,180.6 480.0,180.9 482.0,180.0 484.0,180.8 486.0,182.6 488.0,183.9 490.0,184.4 492.0,186.0 494.0,187.0 496.0,187.5 498.0,188.5 500.0,188.8 502.0,190.0"/>
<polyline fill="none" stroke-linejoin="round" stroke="#b8403a" stroke-width="1.0" points="348.0,196.0 350.0,196.1 352.0,196.1 354.0,195.8 356.0,195.6 358.0,195.4 360.0,195.7 362.0,195.5 364.0,195.7 366.0,195.4 368.0,195.5 370.0,195.2 372.0,195.4 374.0,195.3 376.0,195.1 378.0,195.1 380.0,195.0 382.0,195.0 384.0,194.7 386.0,194.8 388.0,194.9 390.0,194.5 392.0,194.8 394.0,194.6 396.0,194.7 398.0,194.3 400.0,194.1 402.0,194.4 404.0,194.4 406.0,194.1 408.0,193.8 410.0,194.0 412.0,193.9 414.0,194.3 416.0,194.2 418.0,194.7 420.0,194.6 422.0,194.4 424.0,194.8 426.0,194.7 428.0,195.2 430.0,195.0 432.0,195.4 434.0,195.4 436.0,195.7 438.0,195.9 440.0,196.2 442.0,196.5 444.0,196.1 446.0,196.5 448.0,196.9 450.0,197.0 452.0,196.8 454.0,196.9 456.0,196.6 458.0,197.0 460.0,196.7 462.0,196.4 464.0,196.6 466.0,196.4 468.0,196.2 470.0,196.3 472.0,196.0 474.0,196.0 476.0,196.4 478.0,196.2 480.0,196.0 482.0,195.6 484.0,196.0 486.0,195.4 488.0,195.5 490.0,195.7 492.0,195.5 494.0,195.2 496.0,195.1 498.0,195.0 500.0,195.0"/>
<polyline fill="none" stroke-linejoin="round" stroke="#3fc46a" stroke-width="1.2" points="405.0,206.0 407.1,206.2 409.2,206.4 411.3,207.0 413.4,206.9 415.5,207.5 417.6,207.7 419.7,207.8 421.8,208.4 423.9,208.4 426.0,209.0 428.0,208.1 430.0,207.0 432.0,206.2 434.0,205.5 436.0,204.9 438.0,203.6 440.0,203.0 442.0,202.0 444.0,201.4 446.0,200.8 448.0,199.7 450.0,198.8 452.0,198.0 454.0,198.0 456.0,197.2 458.0,197.5 460.0,197.0 461.6,198.5 463.2,200.0 464.8,201.6 466.4,203.3 468.0,205.0 469.3,206.7 470.7,207.8 472.0,209.5 473.3,211.1 474.7,212.4 476.0,214.0 477.4,215.5 478.9,216.6 480.3,218.0 481.7,219.5 483.1,221.3 484.6,222.5 486.0,224.0 487.8,225.0 489.5,226.3 491.2,227.3 493.0,228.4 494.8,229.8 496.5,230.9 498.2,231.7 500.0,233.0 502.0,232.6 504.0,232.2 506.0,231.9 508.0,231.4 510.0,230.7 512.0,230.7 514.0,230.0"/>
<polyline fill="none" stroke-linejoin="round" stroke="#8fb33a" stroke-width="1.0" points="430.0,216.0 432.0,215.4 434.0,216.0 436.0,214.7 438.0,215.0 440.0,214.0 442.0,213.9 444.0,214.5 446.0,213.3 448.0,213.5 450.0,213.0 452.0,212.9 454.0,212.7 456.0,212.7 458.0,212.2 460.0,212.9 462.0,211.9 464.0,212.0 466.0,211.6 468.0,211.8 470.0,212.0 472.0,211.8 474.0,212.3 476.0,211.7 478.0,211.3 480.0,211.4 482.0,212.2 484.0,211.0 486.0,211.6 488.0,211.3 490.0,211.5 492.0,211.1 494.0,211.4 496.0,211.1 498.0,211.2 500.0,211.0 502.0,211.3 504.0,210.7 506.0,210.0 508.0,209.7 510.0,210.6 512.0,209.9 514.0,209.4 516.0,210.1 518.0,209.5 520.0,209.5 522.0,209.0"/>
<polyline fill="none" stroke-linejoin="round" stroke="#3fc46a" stroke-width="1.3" points="350.0,228.0 352.0,228.8 354.0,229.4 356.0,230.0 358.0,231.6 360.0,232.0 362.0,232.1 364.0,233.3 366.0,234.5 368.0,234.2 370.0,235.4 372.0,236.0 373.4,234.6 374.9,232.3 376.3,231.1 377.7,230.0 379.1,228.1 380.6,226.8 382.0,225.0 384.0,223.8 386.0,223.1 388.0,222.1 390.0,221.8 392.0,221.0 393.6,222.9 395.2,223.9 396.8,225.5 398.4,226.5 400.0,228.0 402.0,226.6 404.0,224.2 406.0,223.0 407.1,224.6 408.3,226.9 409.4,228.8 410.6,230.3 411.7,231.8 412.9,233.9 414.0,236.0 416.0,236.5 418.0,237.3 420.0,238.8 422.0,238.8 424.0,240.0 426.0,240.8 428.0,241.2 430.0,240.6 432.0,241.4 434.0,241.9 436.0,241.7 438.0,242.5 440.0,243.0 442.0,244.1 444.0,243.8 446.0,245.0 448.0,245.0 450.0,246.2 452.0,247.2 454.0,247.0 456.0,248.0 458.0,248.4 460.0,249.5 462.0,251.0 464.0,251.4 466.0,252.5 468.0,254.0 469.7,255.3 471.3,257.2 473.0,257.9 474.7,259.2 476.3,260.8 478.0,262.0 480.0,262.3 482.0,263.7 484.0,264.0 486.0,265.3 488.0,266.0 490.0,267.5 492.0,267.5 494.0,269.1 496.0,270.0 497.0,268.4 498.0,266.1 499.0,264.5 500.0,263.6 501.0,261.8 502.0,259.0 503.0,258.0 504.0,256.0 505.1,254.8 506.2,252.1 507.3,250.8 508.4,248.3 509.6,247.0 510.7,245.5 511.8,243.7 512.9,242.1 514.0,240.0"/>
<polyline fill="none" stroke-linejoin="round" stroke="#d9453e" stroke-width="1.0" points="350.0,240.0 352.0,239.9 354.0,239.1 356.0,239.2 358.0,237.7 360.0,239.3 362.0,238.0 364.0,238.9 366.0,238.2 368.0,236.4 370.0,237.4 372.0,236.6 374.0,237.0 375.7,237.4 377.3,240.8 379.0,242.1 380.7,240.2 382.3,244.0 384.0,244.0 385.3,245.8 386.7,246.6 388.0,247.8 389.3,250.6 390.7,251.4 392.0,253.0 392.9,251.7 393.7,249.8 394.6,246.3 395.4,246.4 396.3,245.3 397.1,243.4 398.0,240.0 399.0,238.4 400.0,234.5 401.0,232.4 402.0,230.8 403.0,231.4 404.0,227.4 405.0,226.0 406.8,227.3 408.5,230.8 410.2,230.7 412.0,233.0 413.6,234.6 415.2,235.6 416.8,235.8 418.4,238.9 420.0,240.0 422.0,241.6 424.0,239.9 426.0,240.6 428.0,241.7 430.0,241.0 432.0,243.0 434.0,243.8 436.0,245.7 438.0,246.0 440.0,246.4 442.0,248.3 444.0,248.0 446.0,247.5 448.0,249.5 450.0,249.6 452.0,251.0 454.0,250.1 456.0,252.0 458.0,253.7 460.0,252.3 462.0,253.3 464.0,256.2 466.0,256.0 468.0,258.6 470.0,258.2 472.0,259.3 474.0,260.0 476.0,262.0 478.0,261.7 480.0,263.2 482.0,262.2 484.0,262.4 486.0,264.0 488.0,264.3 490.0,263.7 492.0,265.7 494.0,266.6 496.0,266.0 497.6,265.3 499.2,262.7 500.8,260.7 502.4,259.4 504.0,258.0 505.6,254.8 507.2,255.5 508.8,252.7 510.4,251.0 512.0,250.0"/>
<polyline fill="none" stroke-linejoin="round" stroke="#c8b84a" stroke-width="1.0" points="372.0,240.0 374.0,239.3 376.0,238.7 378.0,238.4 380.0,237.3 382.0,236.7 384.0,236.1 386.0,235.0 388.0,234.7 390.0,234.0 392.0,233.7 394.0,233.4 396.0,232.3 398.0,232.0 400.0,231.4 402.0,231.6 404.0,231.1 406.0,230.0 408.0,230.0 410.0,230.0 412.0,229.5 414.0,228.7 416.0,228.1 418.0,227.2 420.0,226.5 422.0,226.5 424.0,226.0"/>
<path d="M528 325 l3 -3 l1 3" fill="none" stroke="#9aa3b1" stroke-width="0.8"/><rect x="540" y="321.5" width="7" height="6" rx="1" fill="none" stroke="#9aa3b1" stroke-width="0.8"/><circle cx="556" cy="324.5" r="2" fill="#9aa3b1"/>
<rect x="352" y="331" width="10" height="7" rx="2" fill="#3d6a3a"/>
<rect x="364" y="336" width="1.6" height="3" fill="#39b7c8"/>
<rect x="370" y="336" width="1.6" height="3" fill="#e4604d"/>
<rect x="376" y="334" width="1.6" height="5" fill="#39b7c8"/>
<rect x="377.8" y="333" width="1.6" height="6" fill="#41c89a"/>
<rect x="381.8" y="335" width="1.6" height="4" fill="#39b7c8"/>
<rect x="384.0" y="336" width="1.6" height="3" fill="#52c98a"/>
<rect x="390.0" y="329" width="1.6" height="10" fill="#39b7c8"/>
<rect x="394.0" y="334" width="1.6" height="5" fill="#41c89a"/>
<rect x="396.2" y="331" width="1.6" height="8" fill="#41c89a"/>
<rect x="402.2" y="334" width="1.6" height="5" fill="#41c89a"/>
<rect x="404.0" y="336" width="1.6" height="3" fill="#39b7c8"/>
<rect x="405.8" y="335" width="1.6" height="4" fill="#41c89a"/>
<rect x="408.6" y="334" width="1.6" height="5" fill="#39b7c8"/>
<rect x="412.6" y="331" width="1.6" height="8" fill="#52c98a"/>
<rect x="416.6" y="331" width="1.6" height="8" fill="#39b7c8"/>
<rect x="420.6" y="336" width="1.6" height="3" fill="#e4604d"/>
<rect x="422.40000000000003" y="337" width="1.6" height="2" fill="#41c89a"/>
<rect x="426.40000000000003" y="336" width="1.6" height="3" fill="#e4604d"/>
<rect x="430.40000000000003" y="329" width="1.6" height="10" fill="#e4604d"/>
<rect x="434.40000000000003" y="333" width="1.6" height="6" fill="#52c98a"/>
<rect x="440.40000000000003" y="335" width="1.6" height="4" fill="#39b7c8"/>
<rect x="446.40000000000003" y="334" width="1.6" height="5" fill="#39b7c8"/>
<rect x="448.6" y="335" width="1.6" height="4" fill="#41c89a"/>
<rect x="451.40000000000003" y="333" width="1.6" height="6" fill="#41c89a"/>
<rect x="454.20000000000005" y="333" width="1.6" height="6" fill="#39b7c8"/>
<rect x="460.20000000000005" y="337" width="1.6" height="2" fill="#41c89a"/>
<rect x="466.20000000000005" y="335" width="1.6" height="4" fill="#e4604d"/>
<rect x="468.00000000000006" y="337" width="1.6" height="2" fill="#52c98a"/>
<rect x="472.00000000000006" y="337" width="1.6" height="2" fill="#e4604d"/>
<rect x="473.80000000000007" y="334" width="1.6" height="5" fill="#41c89a"/>
<rect x="475.6000000000001" y="335" width="1.6" height="4" fill="#52c98a"/>
<rect x="479.6000000000001" y="329" width="1.6" height="10" fill="#41c89a"/>
<rect x="481.4000000000001" y="333" width="1.6" height="6" fill="#39b7c8"/>
<rect x="483.2000000000001" y="334" width="1.6" height="5" fill="#39b7c8"/>
<rect x="486.0000000000001" y="333" width="1.6" height="6" fill="#e4604d"/>
<rect x="492.0000000000001" y="336" width="1.6" height="3" fill="#41c89a"/>
<rect x="494.8000000000001" y="337" width="1.6" height="2" fill="#41c89a"/>
<rect x="496.60000000000014" y="333" width="1.6" height="6" fill="#39b7c8"/>
<rect x="498.40000000000015" y="336" width="1.6" height="3" fill="#52c98a"/>
<rect x="501.20000000000016" y="333" width="1.6" height="6" fill="#e4604d"/>
<rect x="503.40000000000015" y="331" width="1.6" height="8" fill="#41c89a"/>
<rect x="512" y="331.5" width="19" height="6.5" fill="#f59a20"/>
<rect x="538" y="329" width="2" height="10" fill="#39b7c8"/><rect x="542" y="330" width="4" height="9" fill="#e4604d"/>
<circle cx="353" cy="354" r="3.3" fill="#f07a30"/>
<path d="M495.5 355 a2.8 2.8 0 1 1 5 0" fill="none" stroke="#c9ced6" stroke-width="0.9"/>
<line x1="507.5" y1="349" x2="507.5" y2="359" stroke="#3a4356" stroke-width="1"/>
<circle cx="516" cy="354" r="3" fill="none" stroke="#9aa3b1" stroke-width="0.9"/>
<rect x="528" y="365.5" width="7" height="7" rx="1.5" fill="none" stroke="#9aa3b1" stroke-width="0.9"/><path d="M541 372 l2 -5 l2 5z" fill="#9aa3b1"/><text x="551" y="372" font-size="6" fill="#9aa3b1" font-family="Liberation Sans">12</text>
<circle cx="553" cy="382" r="2.8" fill="none" stroke="#9aa3b1" stroke-width="0.8"/>
<line x1="370.5" y1="389" x2="370.5" y2="562" stroke="#2a3449" stroke-width="1"/>
<line x1="389" y1="389" x2="389" y2="562" stroke="#2a3449" stroke-width="1"/>
<line x1="407.5" y1="389" x2="407.5" y2="562" stroke="#2a3449" stroke-width="1"/>
<line x1="426" y1="389" x2="426" y2="562" stroke="#2a3449" stroke-width="1"/>
<line x1="444.5" y1="389" x2="444.5" y2="562" stroke="#2a3449" stroke-width="1"/>
<line x1="463" y1="389" x2="463" y2="562" stroke="#2a3449" stroke-width="1"/>
<line x1="481.5" y1="389" x2="481.5" y2="562" stroke="#2a3449" stroke-width="1"/>
<line x1="500" y1="389" x2="500" y2="562" stroke="#2a3449" stroke-width="1"/>
<line x1="518" y1="389" x2="518" y2="562" stroke="#2a3449" stroke-width="1"/>
<line x1="370" y1="407" x2="548" y2="407" stroke="#2a3449" stroke-width="1"/>
<line x1="370" y1="427.5" x2="548" y2="427.5" stroke="#2a3449" stroke-width="1"/>
<line x1="370" y1="448" x2="548" y2="448" stroke="#2a3449" stroke-width="1"/>
<line x1="370" y1="468.5" x2="548" y2="468.5" stroke="#2a3449" stroke-width="1"/>
<line x1="370" y1="489" x2="548" y2="489" stroke="#2a3449" stroke-width="1"/>
<line x1="370" y1="510" x2="548" y2="510" stroke="#2a3449" stroke-width="1"/>
<line x1="370" y1="531" x2="548" y2="531" stroke="#2a3449" stroke-width="1"/>
<line x1="370" y1="552" x2="548" y2="552" stroke="#2a3449" stroke-width="1"/>
<line x1="370.5" y1="389" x2="370.5" y2="562" stroke="#3a4358" stroke-width="1"/>
<defs><linearGradient id="gy2" x1="0" y1="0" x2="0" y2="1"><stop offset="0" stop-color="#d8c040"/><stop offset="1" stop-color="#e0902e"/></linearGradient>
<linearGradient id="gyy" x1="0" y1="0" x2="0" y2="1"><stop offset="0" stop-color="#a6cc48"/><stop offset="1" stop-color="#88c04a"/></linearGradient></defs>
<rect x="371.4" y="540" width="4.3" height="21.0" fill="url(#go)"/>
<rect x="376.6" y="544.3" width="4.1" height="16.7" fill="url(#gyy)"/>
<rect x="382" y="531.6" width="5.5" height="29.4" fill="url(#go)"/>
<rect x="388" y="463.4" width="4.7" height="97.6" fill="url(#gog)"/>
<rect x="393.6" y="486.8" width="4.1" height="74.2" fill="url(#go)"/>
<rect x="400.5" y="518.6" width="5.2" height="42.4" fill="url(#go)"/>
<rect x="406" y="529" width="4.4" height="32.0" fill="url(#gyy)"/>
<rect x="412" y="536.8" width="4.7" height="24.2" fill="url(#go)"/>
<rect x="418.6" y="547" width="4.7" height="14.0" fill="url(#go)"/>
<rect x="424" y="498.6" width="4.3" height="62.4" fill="url(#go)"/>
<rect x="428" y="516" width="3.3" height="45.0" fill="url(#gyy)"/>
<rect x="432" y="493" width="4.3" height="68.0" fill="url(#go)"/>
<rect x="437" y="511" width="4.5" height="50.0" fill="url(#gy2)"/>
<rect x="442" y="544.8" width="4.5" height="16.2" fill="url(#go)"/>
<rect x="448" y="542.5" width="4.4" height="18.5" fill="url(#go)"/>
<rect x="453.6" y="489.8" width="5.1" height="71.2" fill="url(#go)"/>
<rect x="459" y="522" width="4.1" height="39.0" fill="url(#gy2)"/>
<rect x="463.4" y="482.7" width="4.3" height="78.3" fill="url(#go)"/>
<rect x="469" y="543.6" width="4.7" height="17.4" fill="url(#go)"/>
<rect x="475" y="533.9" width="4.5" height="27.1" fill="url(#gyy)"/>
<rect x="480.7" y="472" width="4.5" height="89.0" fill="url(#go)"/>
<rect x="486.6" y="502" width="4.1" height="59.0" fill="url(#gy2)"/>
<rect x="492" y="519" width="4.7" height="42.0" fill="url(#go)"/>
<rect x="497.5" y="536.4" width="4.7" height="24.6" fill="url(#gy2)"/>
<rect x="503" y="538.6" width="4.7" height="22.4" fill="url(#go)"/>
<rect x="509" y="543.6" width="1.7" height="17.4" fill="url(#gyy)"/>
<rect x="510.5" y="523.6" width="5.2" height="37.4" fill="url(#go)"/>
<line x1="371" y1="561.5" x2="517" y2="561.5" stroke="#8a93a3" stroke-width="0.8"/>
<line x1="517.5" y1="392" x2="517.5" y2="562" stroke="#3e5a50" stroke-width="1"/><line x1="547.5" y1="392" x2="547.5" y2="562" stroke="#3a4358" stroke-width="1"/>
<path d="M705 81 l4 4 M709 81 l-4 4" stroke="#8a93a3" stroke-width="0.8"/>
<path d="M716 81 l4 4 M720 81 l-4 4" stroke="#8a93a3" stroke-width="0.8"/>
<path d="M726 81 l4 4 M730 81 l-4 4" stroke="#8a93a3" stroke-width="0.8"/>
<circle cx="700" cy="94.5" r="2.6" fill="none" stroke="#9aa3b1" stroke-width="0.8"/>
<circle cx="712" cy="94.5" r="2.6" fill="none" stroke="#9aa3b1" stroke-width="0.8"/>
<circle cx="722" cy="94.5" r="2.6" fill="none" stroke="#9aa3b1" stroke-width="0.8"/>
<line x1="579.5" y1="99" x2="579.5" y2="240" stroke="#3a4358" stroke-width="1"/><line x1="710" y1="99" x2="710" y2="240" stroke="#3a4358" stroke-width="1"/>
<line x1="580" y1="115.3" x2="710" y2="115.3" stroke="#3e475c" stroke-width="0.8" stroke-dasharray="2 2"/>
<line x1="580" y1="150" x2="710" y2="150" stroke="#3e475c" stroke-width="0.8" stroke-dasharray="2 2"/>
<line x1="580" y1="184.6" x2="710" y2="184.6" stroke="#3e475c" stroke-width="0.8" stroke-dasharray="2 2"/>
<line x1="580" y1="221" x2="710" y2="221" stroke="#3e475c" stroke-width="0.8" stroke-dasharray="2 2"/>
<rect x="580" y="234" width="2.6" height="5.699999999999989" fill="#f29a34"/>
<rect x="583.3" y="230" width="2.6" height="9.699999999999989" fill="#f29a34"/>
<rect x="588" y="226" width="2.6" height="13.699999999999989" fill="#f29a34"/>
<rect x="591.3" y="226" width="2.6" height="13.699999999999989" fill="#9cc84a"/>
<rect x="594.5" y="220" width="2.6" height="19.69999999999999" fill="#e8a03a"/>
<rect x="598" y="207" width="2.6" height="32.69999999999999" fill="#f29a34"/>
<rect x="601.4" y="235" width="2.6" height="4.699999999999989" fill="#e8a03a"/>
<rect x="604.6" y="234" width="2.6" height="5.699999999999989" fill="#e8702a"/>
<rect x="607.3" y="230" width="2.6" height="9.699999999999989" fill="#f29a34"/>
<rect x="611.3" y="227" width="2.6" height="12.699999999999989" fill="#ef8a2e"/>
<rect x="615.3" y="217" width="2.6" height="22.69999999999999" fill="#e8a03a"/>
<rect x="618.5" y="219" width="2.6" height="20.69999999999999" fill="#e8702a"/>
<rect x="621" y="230" width="2.6" height="9.699999999999989" fill="#ef8a2e"/>
<rect x="624.6" y="230" width="2.6" height="9.699999999999989" fill="#ee7a2c"/>
<rect x="627.3" y="231" width="2.6" height="8.699999999999989" fill="#f29a34"/>
<rect x="630" y="215" width="2.6" height="24.69999999999999" fill="#e8a03a"/>
<rect x="645" y="228" width="2.6" height="11.699999999999989" fill="#ef8a2e"/>
<rect x="648" y="232" width="2.6" height="7.699999999999989" fill="#e8702a"/>
<rect x="651" y="230" width="2.6" height="9.699999999999989" fill="#ef8a2e"/>
<rect x="655" y="236" width="2.6" height="3.6999999999999886" fill="#ef8a2e"/>
<rect x="658" y="232" width="2.6" height="7.699999999999989" fill="#9cc84a"/>
<rect x="662" y="220" width="2.6" height="19.69999999999999" fill="#9cc84a"/>
<rect x="666" y="231" width="2.6" height="8.699999999999989" fill="#ef8a2e"/>
<rect x="669" y="226" width="2.6" height="13.699999999999989" fill="#f29a34"/>
<rect x="672" y="211" width="2.6" height="28.69999999999999" fill="#f0a030"/>
<rect x="676" y="230" width="2.6" height="9.699999999999989" fill="#f29a34"/>
<rect x="680" y="226" width="2.6" height="13.699999999999989" fill="#9cc84a"/>
<rect x="683" y="211" width="2.6" height="28.69999999999999" fill="#9cc84a"/>
<rect x="686" y="222" width="2.6" height="17.69999999999999" fill="#ef8a2e"/>
<rect x="690" y="225" width="2.6" height="14.699999999999989" fill="#f29a34"/>
<rect x="693" y="215" width="2.6" height="24.69999999999999" fill="#ef8a2e"/>
<rect x="696" y="230" width="2.6" height="9.699999999999989" fill="#e8702a"/>
<rect x="699" y="199" width="2.6" height="40.69999999999999" fill="#c8d040"/>
<rect x="703" y="205" width="2.6" height="34.69999999999999" fill="#ef8a2e"/>
<line x1="632" y1="218" x2="632" y2="238" stroke="#58cfa6" stroke-width="0.6" opacity="0.7"/><rect x="630.7" y="223" width="2.6" height="11" fill="#58cfa6"/>
<line x1="635" y1="206" x2="635" y2="227" stroke="#58cfa6" stroke-width="0.6" opacity="0.7"/><rect x="633.7" y="211" width="2.6" height="12" fill="#58cfa6"/>
<line x1="639" y1="192" x2="639" y2="219" stroke="#e98a4e" stroke-width="0.6" opacity="0.7"/><rect x="637.7" y="197" width="2.6" height="18" fill="#e98a4e"/>
<line x1="642" y1="200" x2="642" y2="219" stroke="#e25a50" stroke-width="0.6" opacity="0.7"/><rect x="640.7" y="205" width="2.6" height="10" fill="#e25a50"/>
<line x1="645" y1="205" x2="645" y2="226" stroke="#e25a50" stroke-width="0.6" opacity="0.7"/><rect x="643.7" y="210" width="2.6" height="12" fill="#e25a50"/>
<line x1="649" y1="213" x2="649" y2="232" stroke="#e25a50" stroke-width="0.6" opacity="0.7"/><rect x="647.7" y="218" width="2.6" height="10" fill="#e25a50"/>
<line x1="652" y1="212" x2="652" y2="234" stroke="#58cfa6" stroke-width="0.6" opacity="0.7"/><rect x="650.7" y="217" width="2.6" height="13" fill="#58cfa6"/>
<line x1="656" y1="215" x2="656" y2="236" stroke="#58cfa6" stroke-width="0.6" opacity="0.7"/><rect x="654.7" y="220" width="2.6" height="12" fill="#58cfa6"/>
<line x1="660" y1="200" x2="660" y2="225" stroke="#58cfa6" stroke-width="0.6" opacity="0.7"/><rect x="658.7" y="205" width="2.6" height="16" fill="#58cfa6"/>
<line x1="663" y1="166" x2="663" y2="206" stroke="#58cfa6" stroke-width="0.6" opacity="0.7"/><rect x="661.7" y="171" width="2.6" height="31" fill="#58cfa6"/>
<line x1="667" y1="149" x2="667" y2="179" stroke="#58cfa6" stroke-width="0.6" opacity="0.7"/><rect x="665.7" y="154" width="2.6" height="21" fill="#58cfa6"/>
<line x1="671" y1="142" x2="671" y2="169" stroke="#58cfa6" stroke-width="0.6" opacity="0.7"/><rect x="669.7" y="147" width="2.6" height="18" fill="#58cfa6"/>
<line x1="674" y1="153" x2="674" y2="170" stroke="#e25a50" stroke-width="0.6" opacity="0.7"/><rect x="672.7" y="158" width="2.6" height="8" fill="#e25a50"/>
<line x1="677" y1="157" x2="677" y2="182" stroke="#e25a50" stroke-width="0.6" opacity="0.7"/><rect x="675.7" y="162" width="2.6" height="16" fill="#e25a50"/>
<line x1="680" y1="162" x2="680" y2="182" stroke="#e25a50" stroke-width="0.6" opacity="0.7"/><rect x="678.7" y="167" width="2.6" height="11" fill="#e25a50"/>
<line x1="684" y1="169" x2="684" y2="190" stroke="#e25a50" stroke-width="0.6" opacity="0.7"/><rect x="682.7" y="174" width="2.6" height="12" fill="#e25a50"/>
<line x1="687" y1="176" x2="687" y2="193" stroke="#e25a50" stroke-width="0.6" opacity="0.7"/><rect x="685.7" y="181" width="2.6" height="8" fill="#e25a50"/>
<line x1="690" y1="168" x2="690" y2="190" stroke="#58cfa6" stroke-width="0.6" opacity="0.7"/><rect x="688.7" y="173" width="2.6" height="13" fill="#58cfa6"/>
<line x1="693" y1="157" x2="693" y2="179" stroke="#58cfa6" stroke-width="0.6" opacity="0.7"/><rect x="691.7" y="162" width="2.6" height="13" fill="#58cfa6"/>
<line x1="696" y1="150" x2="696" y2="169" stroke="#58cfa6" stroke-width="0.6" opacity="0.7"/><rect x="694.7" y="155" width="2.6" height="10" fill="#58cfa6"/>
<line x1="699" y1="138" x2="699" y2="161" stroke="#58cfa6" stroke-width="0.6" opacity="0.7"/><rect x="697.7" y="143" width="2.6" height="14" fill="#58cfa6"/>
<line x1="703" y1="122" x2="703" y2="150" stroke="#58cfa6" stroke-width="0.6" opacity="0.7"/><rect x="701.7" y="127" width="2.6" height="19" fill="#58cfa6"/>
<line x1="706" y1="129" x2="706" y2="147" stroke="#e25a50" stroke-width="0.6" opacity="0.7"/><rect x="704.7" y="134" width="2.6" height="9" fill="#e25a50"/>
<line x1="709" y1="133" x2="709" y2="154" stroke="#e25a50" stroke-width="0.6" opacity="0.7"/><rect x="707.7" y="138" width="2.6" height="12" fill="#e25a50"/>
<path d="M698 279 l6 -7 l3 2 l-6 7 z" fill="none" stroke="#e8c03a" stroke-width="1.3"/>
<path d="M714 277 a4 4 0 1 1 6 0 l-2 2 l-2 -2z" fill="none" stroke="#8fb8e8" stroke-width="1"/>
<line x1="727" y1="287" x2="731" y2="287" stroke="#d0d5dc" stroke-width="1"/>
<path d="M726.5 580 l2.5 2.5 l2.5 -2.5" fill="none" stroke="#c9ced6" stroke-width="1"/>
<rect x="597" y="284.5" width="4" height="5" fill="none" stroke="#b8d0c0" stroke-width="0.8"/>
<rect x="597" y="296.8" width="4" height="5" fill="none" stroke="#b8d0c0" stroke-width="0.8"/>
<rect x="597" y="309.2" width="4" height="5" fill="none" stroke="#b8d0c0" stroke-width="0.8"/>
<rect x="597" y="321.5" width="4" height="5" fill="none" stroke="#b8d0c0" stroke-width="0.8"/>
<circle cx="599" cy="336.3" r="3" fill="none" stroke="#6e7786" stroke-width="0.8"/>
<circle cx="599" cy="348.6" r="3" fill="none" stroke="#6e7786" stroke-width="0.8"/>
<circle cx="599" cy="361.0" r="3" fill="none" stroke="#6e7786" stroke-width="0.8"/>
<circle cx="599" cy="373.3" r="3" fill="none" stroke="#6e7786" stroke-width="0.8"/>
<circle cx="599" cy="385.6" r="3" fill="none" stroke="#6e7786" stroke-width="0.8"/>
<rect x="597" y="395.5" width="4" height="5" fill="none" stroke="#b8d0c0" stroke-width="0.8"/>
<rect x="18" y="598" width="8" height="8" rx="2" fill="none" stroke="#c9ced6" stroke-width="1"/>
<path d="M682 608 l4 -5 M684 601 a2 2 0 1 1 4 2" fill="none" stroke="#d0d5dc" stroke-width="1"/><path d="M698 597 l10 10 M708 597 l-10 10" stroke="#d0d5dc" stroke-width="1.1"/><rect x="717" y="597" width="4" height="4" fill="#c9ced6"/><rect x="723" y="597" width="4" height="4" fill="#c9ced6"/><rect x="717" y="603" width="4" height="4" fill="#c9ced6"/><rect x="723" y="603" width="4" height="4" fill="#c9ced6"/>
<rect x="66" y="616" width="8" height="10" rx="1.5" fill="none" stroke="#9aa3b1" stroke-width="0.9"/>
<rect x="117" y="616" width="10" height="9" rx="1" fill="#2f9a4a" stroke="#4fd06a" stroke-width="0.9"/>
<circle cx="170" cy="620.5" r="4.5" fill="#2a7fb0"/>
<rect x="219" y="616" width="10" height="9" rx="1" fill="#2a6ad0"/>
<path d="M288 617 l8 -1 l-1 9 l-7 0z" fill="#d06060"/>
<rect x="336" y="616" width="8" height="10" fill="#7e8796"/>
<rect x="406" y="616" width="7" height="9" rx="1" fill="#e0553a"/>
<circle cx="696" cy="620.5" r="4" fill="#1f6a3a" stroke="#4fd06a" stroke-width="1"/>
</svg></div>
<div id="R">
<div style="left:750px;top:0px;width:420px;height:638px;background:#ffffff;"></div>
<div class="t" style="left:757.60px;top:16.9px;font-size:27.75px;color:#1c1c1c;font-weight:normal;transform:scaleX(1.029);transform-origin:0 0;-webkit-text-stroke:0.45px #1c1c1c">Mutual Fund Portfolio Stratgies</div>
<div style="left:755px;top:45px;width:397px;height:2px;background:#262626;"></div>
<div class="t" style="left:768.70px;top:84.8px;font-size:18px;color:#1e1e1e;font-weight:normal;transform:scaleX(0.938);transform-origin:0 0;">Mutual Fund Portfiio Returh</div>
<div class="t" style="left:792.60px;top:123.6px;font-size:15.5px;color:#1e1e1e;font-weight:normal;transform:scaleX(0.995);transform-origin:0 0;">Petuıno</div>
<div class="t" style="right:381px;top:156.2px;font-size:12.2px;color:#474747;font-weight:normal;">50.00</div>
<div class="t" style="right:381px;top:194.1px;font-size:12.2px;color:#474747;font-weight:normal;">50.00</div>
<div class="t" style="right:381px;top:232.0px;font-size:12.2px;color:#474747;font-weight:normal;">64.00</div>
<div class="t" style="right:381px;top:269.9px;font-size:12.2px;color:#474747;font-weight:normal;">50.00</div>
<div class="t" style="right:381px;top:307.8px;font-size:12.2px;color:#474747;font-weight:normal;">50.00</div>
<div class="t" style="right:381px;top:345.7px;font-size:12.2px;color:#474747;font-weight:normal;">22.00</div>
<div class="t" style="right:381px;top:383.6px;font-size:12.2px;color:#474747;font-weight:normal;">20.00</div>
<div class="t" style="right:381px;top:421.5px;font-size:12.2px;color:#474747;font-weight:normal;">10.00</div>
<div class="t" style="right:381px;top:459.4px;font-size:12.2px;color:#474747;font-weight:normal;">20.0</div>
<div class="t" style="right:381px;top:497.3px;font-size:12.2px;color:#474747;font-weight:normal;">0.0</div>
<div class="t" style="right:381px;top:539.7px;font-size:12.2px;color:#474747;font-weight:normal;">0</div>
<div class="t" style="left:770px;width:60px;text-align:center;top:557.9px;font-size:12.5px;color:#474747">00</div>
<div class="t" style="left:813.8px;width:60px;text-align:center;top:557.9px;font-size:12.5px;color:#474747">200</div>
<div class="t" style="left:856px;width:60px;text-align:center;top:557.9px;font-size:12.5px;color:#474747">500</div>
<div class="t" style="left:899.5px;width:60px;text-align:center;top:557.9px;font-size:12.5px;color:#474747">2.00</div>
<div class="t" style="left:942.8px;width:60px;text-align:center;top:557.9px;font-size:12.5px;color:#474747">2600</div>
<div class="t" style="left:987.2px;width:60px;text-align:center;top:557.9px;font-size:12.5px;color:#474747">2400</div>
<div class="t" style="left:1028.5px;width:60px;text-align:center;top:557.9px;font-size:12.5px;color:#474747">7600</div>
<div class="t" style="left:1070.2px;width:60px;text-align:center;top:557.9px;font-size:12.5px;color:#474747">2600</div>
<div class="t" style="left:1112.3px;width:60px;text-align:center;top:557.9px;font-size:12.5px;color:#474747">2500</div>
<svg width="1170" height="638" viewBox="0 0 1170 638">
<line x1="796" y1="162.2" x2="1146" y2="162.2" stroke="#dedede" stroke-width="1.2"/>
<line x1="792.5" y1="162.2" x2="796" y2="162.2" stroke="#444" stroke-width="1"/>
<line x1="796" y1="200.1" x2="1146" y2="200.1" stroke="#dedede" stroke-width="1.2"/>
<line x1="792.5" y1="200.1" x2="796" y2="200.1" stroke="#444" stroke-width="1"/>
<line x1="796" y1="238.0" x2="1146" y2="238.0" stroke="#dedede" stroke-width="1.2"/>
<line x1="792.5" y1="238.0" x2="796" y2="238.0" stroke="#444" stroke-width="1"/>
<line x1="796" y1="275.9" x2="1146" y2="275.9" stroke="#dedede" stroke-width="1.2"/>
<line x1="792.5" y1="275.9" x2="796" y2="275.9" stroke="#444" stroke-width="1"/>
<line x1="796" y1="313.8" x2="1146" y2="313.8" stroke="#dedede" stroke-width="1.2"/>
<line x1="792.5" y1="313.8" x2="796" y2="313.8" stroke="#444" stroke-width="1"/>
<line x1="796" y1="351.7" x2="1146" y2="351.7" stroke="#dedede" stroke-width="1.2"/>
<line x1="792.5" y1="351.7" x2="796" y2="351.7" stroke="#444" stroke-width="1"/>
<line x1="796" y1="389.6" x2="1146" y2="389.6" stroke="#dedede" stroke-width="1.2"/>
<line x1="792.5" y1="389.6" x2="796" y2="389.6" stroke="#444" stroke-width="1"/>
<line x1="796" y1="427.5" x2="1146" y2="427.5" stroke="#dedede" stroke-width="1.2"/>
<line x1="792.5" y1="427.5" x2="796" y2="427.5" stroke="#444" stroke-width="1"/>
<line x1="796" y1="465.4" x2="1146" y2="465.4" stroke="#dedede" stroke-width="1.2"/>
<line x1="792.5" y1="465.4" x2="796" y2="465.4" stroke="#444" stroke-width="1"/>
<line x1="796" y1="503.3" x2="1146" y2="503.3" stroke="#dedede" stroke-width="1.2"/>
<line x1="792.5" y1="503.3" x2="796" y2="503.3" stroke="#444" stroke-width="1"/>
<line x1="796" y1="161.5" x2="796" y2="550" stroke="#3a3a3a" stroke-width="1.6"/>
<line x1="795" y1="549.3" x2="1146" y2="549.3" stroke="#3a3a3a" stroke-width="1.6"/>
<line x1="796" y1="549" x2="796" y2="553" stroke="#3a3a3a" stroke-width="1.2"/>
<line x1="841.8" y1="549" x2="841.8" y2="553" stroke="#3a3a3a" stroke-width="1.2"/>
<line x1="884.6" y1="549" x2="884.6" y2="553" stroke="#3a3a3a" stroke-width="1.2"/>
<line x1="929.4" y1="549" x2="929.4" y2="553" stroke="#3a3a3a" stroke-width="1.2"/>
<line x1="971.7" y1="549" x2="971.7" y2="553" stroke="#3a3a3a" stroke-width="1.2"/>
<line x1="1014.8" y1="549" x2="1014.8" y2="553" stroke="#3a3a3a" stroke-width="1.2"/>
<line x1="1057" y1="549" x2="1057" y2="553" stroke="#3a3a3a" stroke-width="1.2"/>
<line x1="1100" y1="549" x2="1100" y2="553" stroke="#3a3a3a" stroke-width="1.2"/>
<line x1="1142.6" y1="549" x2="1142.6" y2="553" stroke="#3a3a3a" stroke-width="1.2"/>
<defs><linearGradient id="rb0" x1="0" y1="0" x2="0" y2="1"><stop offset="0" stop-color="#f28c2e"/><stop offset="0.55" stop-color="#ed742c"/><stop offset="1" stop-color="#e6532a"/></linearGradient></defs>
<rect x="803" y="514.5" width="37.5" height="34.5" fill="url(#rb0)"/>
<defs><linearGradient id="rb1" x1="0" y1="0" x2="0" y2="1"><stop offset="0" stop-color="#f29131"/><stop offset="0.55" stop-color="#ee782d"/><stop offset="1" stop-color="#e6532a"/></linearGradient></defs>
<rect x="846.2" y="493" width="37.6" height="56.0" fill="url(#rb1)"/>
<defs><linearGradient id="rb2" x1="0" y1="0" x2="0" y2="1"><stop offset="0" stop-color="#f39432"/><stop offset="0.55" stop-color="#ee7a2d"/><stop offset="1" stop-color="#e6532a"/></linearGradient></defs>
<rect x="889.5" y="481" width="37.1" height="68.0" fill="url(#rb2)"/>
<defs><linearGradient id="rb3" x1="0" y1="0" x2="0" y2="1"><stop offset="0" stop-color="#f39f38"/><stop offset="0.55" stop-color="#ef812e"/><stop offset="1" stop-color="#e6532a"/></linearGradient></defs>
<rect x="932.3" y="437.6" width="37.7" height="111.4" fill="url(#rb3)"/>
<defs><linearGradient id="rb4" x1="0" y1="0" x2="0" y2="1"><stop offset="0" stop-color="#f4a53b"/><stop offset="0.55" stop-color="#ef862f"/><stop offset="1" stop-color="#e6532a"/></linearGradient></defs>
<rect x="975.6" y="409.8" width="36.9" height="139.2" fill="url(#rb4)"/>
<defs><linearGradient id="rb5" x1="0" y1="0" x2="0" y2="1"><stop offset="0" stop-color="#f5b644"/><stop offset="0.55" stop-color="#f19131"/><stop offset="1" stop-color="#e6532a"/></linearGradient></defs>
<rect x="1018" y="340" width="37.6" height="209.0" fill="url(#rb5)"/>
<defs><linearGradient id="rb6" x1="0" y1="0" x2="0" y2="1"><stop offset="0" stop-color="#f6c34a"/><stop offset="0.55" stop-color="#f29a32"/><stop offset="1" stop-color="#e6532a"/></linearGradient></defs>
<rect x="1061" y="286.4" width="37.3" height="262.6" fill="url(#rb6)"/>
<defs><linearGradient id="rb7" x1="0" y1="0" x2="0" y2="1"><stop offset="0" stop-color="#f7d453"/><stop offset="0.55" stop-color="#f4a634"/><stop offset="1" stop-color="#e6532a"/></linearGradient></defs>
<rect x="1104.2" y="218.6" width="37.6" height="330.4" fill="url(#rb7)"/>
<polyline points="805,490 848,464.4 882.5,453.4 928,397 973,350 1012,320.5 1119,184" fill="none" stroke="#eba042" stroke-width="3.2" stroke-linejoin="round" stroke-linecap="round"/>
<path d="M1132 169 L1109.5 180 L1127.5 192 Z" fill="#efa142"/>
<line x1="990" y1="581" x2="990" y2="609" stroke="#f08080" stroke-width="1.2"/><rect x="986" y="586" width="8" height="20.5" fill="#f47c7c"/>
<line x1="1002.7" y1="571" x2="1002.7" y2="609" stroke="#88c898" stroke-width="1.2"/><circle cx="1002.7" cy="570" r="1.8" fill="#888"/><rect x="998.5" y="576" width="8.5" height="30.5" fill="#74d07e"/>
<g fill="none" stroke="#858585" stroke-width="2.1" stroke-linecap="round"><path d="M1039.5 579.5 A15.5 17.5 0 1 0 1039.5 603.5"/><ellipse cx="1053.5" cy="598" rx="11" ry="11"/><line x1="1064.5" y1="587" x2="1064.5" y2="609"/><path d="M1071.5 609 L1071.5 583 Q1071.5 574.5 1079 575"/><line x1="1066.5" y1="589.5" x2="1078" y2="589.5"/><path d="M1079.5 598 L1099.5 598 A10.3 10.8 0 1 0 1096.5 606"/></g>
<defs><linearGradient id="gold" x1="0" y1="0" x2="0" y2="1"><stop offset="0" stop-color="#ead9a8"/><stop offset="1" stop-color="#d4b474"/></linearGradient></defs>
<g fill="none" stroke="url(#gold)" stroke-linecap="round"><path d="M1094 614 C1100 619 1106 612 1109 600 L1115 584 C1118 575 1124 572 1129 575" stroke-width="4.4"/><path d="M1103 590 L1121 588.5" stroke-width="2.4"/><path d="M1117 592 C1123 585 1128 589 1132 599 C1135 607 1138 610 1144 606" stroke-width="4.2"/><path d="M1146 590 C1139 591 1130 600 1122 607" stroke-width="2.4"/></g><g fill="#dcc690"><circle cx="1093.5" cy="612.5" r="3.2"/><circle cx="1128.5" cy="577" r="3.4"/><circle cx="1147" cy="590" r="3.2"/><circle cx="1121" cy="606" r="2.6"/></g>
</svg></div>
</body></html>
